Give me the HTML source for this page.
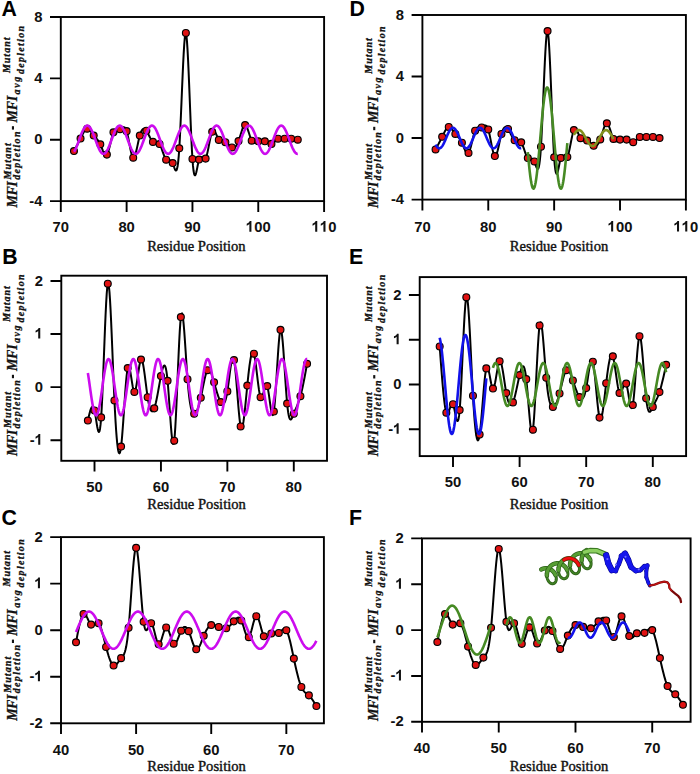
<!DOCTYPE html>
<html><head><meta charset="utf-8"><style>
html,body{margin:0;padding:0;background:#fff;overflow:hidden;}
svg{display:block;}
.tk{font-family:"Liberation Sans",sans-serif;font-weight:bold;font-size:14.8px;fill:#111;}
.lt{font-family:"Liberation Sans",sans-serif;font-weight:bold;font-size:21.3px;fill:#000;}
.xt{font-family:"Liberation Serif",serif;font-size:14.6px;fill:#111;stroke:#111;stroke-width:0.4px;}
.yl{font-family:"Liberation Serif",serif;font-weight:bold;font-style:italic;fill:#111;stroke:#111;stroke-width:0.3px;}
</style></head><body>
<svg width="700" height="774" viewBox="0 0 700 774">
<rect width="700" height="774" fill="#fff"/>

<rect x="60.80" y="17.00" width="263.30" height="184.10" fill="none" stroke="#000" stroke-width="1.9"/>
<text class="tk" x="52.57" y="231.70">7</text><text class="tk" x="60.80" y="231.70">0</text>
<text class="tk" x="118.40" y="231.70">8</text><text class="tk" x="126.62" y="231.70">0</text>
<text class="tk" x="184.22" y="231.70">9</text><text class="tk" x="192.45" y="231.70">0</text>
<path d="M760 0L475 0L475 1050Q320 905 109 835L109 1090Q220 1126 350 1227Q480 1328 528 1466L760 1466Z" transform="translate(245.93,231.70) scale(0.00723,-0.00723)" fill="#111"/><text class="tk" x="254.16" y="231.70">0</text><text class="tk" x="262.39" y="231.70">0</text>
<path d="M760 0L475 0L475 1050Q320 905 109 835L109 1090Q220 1126 350 1227Q480 1328 528 1466L760 1466Z" transform="translate(311.76,231.70) scale(0.00723,-0.00723)" fill="#111"/><path d="M760 0L475 0L475 1050Q320 905 109 835L109 1090Q220 1126 350 1227Q480 1328 528 1466L760 1466Z" transform="translate(319.99,231.70) scale(0.00723,-0.00723)" fill="#111"/><text class="tk" x="328.21" y="231.70">0</text>
<text class="tk" x="34.27" y="21.50">8</text>
<text class="tk" x="34.27" y="82.87">4</text>
<text class="tk" x="34.27" y="144.23">0</text>
<text class="tk" x="29.34" y="205.60">-</text><text class="tk" x="34.27" y="205.60">4</text>
<path d="M60.80 201.10 V211.90 M126.62 201.10 V211.90 M192.45 201.10 V211.90 M258.27 201.10 V211.90 M324.10 201.10 V211.90 M60.80 17.00 H50.00 M60.80 78.37 H50.00 M60.80 139.73 H50.00 M60.80 201.10 H50.00" stroke="#000" stroke-width="1.9" fill="none"/>
<text class="lt" x="1.50" y="15.90">A</text>
<text class="xt" x="196.40" y="251.00" text-anchor="middle">Residue Position</text>
<g transform="translate(0.00,207.40) rotate(-90)">
<text class="yl" x="0.00" y="16.60" font-size="14.0" textLength="26.20" lengthAdjust="spacing">MFI</text>
<text class="yl" x="28.00" y="10.60" font-size="10.0" textLength="36.10" lengthAdjust="spacing">Mutant</text>
<text class="yl" x="27.60" y="20.00" font-size="10.0" textLength="48.30" lengthAdjust="spacing">depletion</text>
<rect x="77.80" y="11.9" width="3.4" height="2.1" fill="#111"/>
<text class="yl" x="85.00" y="16.60" font-size="14.0" textLength="26.60" lengthAdjust="spacing">MFI</text>
<text class="yl" x="113.00" y="19.80" font-size="10.0" textLength="17.60" lengthAdjust="spacing">avg</text>
<text class="yl" x="133.40" y="23.60" font-size="10.0" textLength="48.10" lengthAdjust="spacing">depletion</text>
<text class="yl" x="134.30" y="10.40" font-size="10.0" textLength="35.60" lengthAdjust="spacing">Mutant</text>
</g>
<path d="M73.97 151.09 L74.51 150.08 L75.06 149.07 L75.61 148.05 L76.16 147.04 L76.71 146.01 L77.26 144.98 L77.80 143.93 L78.35 142.88 L78.90 141.81 L79.45 140.73 L80.00 139.63 L80.55 138.51 L81.10 137.37 L81.64 136.23 L82.19 135.11 L82.74 134.02 L83.29 132.98 L83.84 132.01 L84.39 131.14 L84.94 130.36 L85.48 129.71 L86.03 129.20 L86.58 128.86 L87.13 128.69 L87.68 128.71 L88.23 128.90 L88.78 129.25 L89.32 129.72 L89.87 130.31 L90.42 130.98 L90.97 131.71 L91.52 132.49 L92.07 133.29 L92.62 134.09 L93.16 134.86 L93.71 135.59 L94.26 136.26 L94.81 136.88 L95.36 137.47 L95.91 138.04 L96.46 138.62 L97.00 139.23 L97.55 139.87 L98.10 140.58 L98.65 141.36 L99.20 142.23 L99.75 143.22 L100.30 144.34 L100.84 145.59 L101.39 146.94 L101.94 148.34 L102.49 149.74 L103.04 151.08 L103.59 152.31 L104.13 153.39 L104.68 154.25 L105.23 154.86 L105.78 155.16 L106.33 155.09 L106.88 154.61 L107.43 153.69 L107.97 152.37 L108.52 150.73 L109.07 148.82 L109.62 146.72 L110.17 144.50 L110.72 142.22 L111.27 139.96 L111.81 137.77 L112.36 135.73 L112.91 133.91 L113.46 132.37 L114.01 131.16 L114.56 130.27 L115.11 129.64 L115.65 129.24 L116.20 129.02 L116.75 128.95 L117.30 128.98 L117.85 129.06 L118.40 129.16 L118.95 129.24 L119.49 129.25 L120.04 129.15 L120.59 128.91 L121.14 128.58 L121.69 128.19 L122.24 127.82 L122.79 127.49 L123.33 127.28 L123.88 127.22 L124.43 127.38 L124.98 127.80 L125.53 128.53 L126.08 129.63 L126.62 131.14 L127.17 133.10 L127.72 135.43 L128.27 138.04 L128.82 140.82 L129.37 143.68 L129.92 146.53 L130.46 149.25 L131.01 151.76 L131.56 153.95 L132.11 155.74 L132.66 157.01 L133.21 157.68 L133.76 157.68 L134.30 157.06 L134.85 155.90 L135.40 154.30 L135.95 152.33 L136.50 150.09 L137.05 147.65 L137.60 145.11 L138.14 142.55 L138.69 140.05 L139.24 137.70 L139.79 135.59 L140.34 133.78 L140.89 132.28 L141.44 131.07 L141.98 130.13 L142.53 129.46 L143.08 129.02 L143.63 128.82 L144.18 128.83 L144.73 129.03 L145.28 129.42 L145.82 129.98 L146.37 130.68 L146.92 131.52 L147.47 132.47 L148.02 133.50 L148.57 134.58 L149.12 135.69 L149.66 136.80 L150.21 137.88 L150.76 138.90 L151.31 139.84 L151.86 140.67 L152.41 141.36 L152.95 141.88 L153.50 142.22 L154.05 142.40 L154.60 142.47 L155.15 142.45 L155.70 142.40 L156.25 142.34 L156.79 142.31 L157.34 142.36 L157.89 142.52 L158.44 142.82 L158.99 143.31 L159.54 144.03 L160.09 144.99 L160.63 146.17 L161.18 147.52 L161.73 149.00 L162.28 150.55 L162.83 152.13 L163.38 153.70 L163.93 155.20 L164.47 156.60 L165.02 157.84 L165.57 158.88 L166.12 159.68 L166.67 160.20 L167.22 160.48 L167.77 160.59 L168.31 160.57 L168.86 160.50 L169.41 160.42 L169.96 160.39 L170.51 160.47 L171.06 160.72 L171.61 161.20 L172.15 161.95 L172.70 163.05 L173.25 164.51 L173.80 166.15 L174.35 167.79 L174.90 169.21 L175.45 170.22 L175.99 170.59 L176.54 170.15 L177.09 168.66 L177.64 165.95 L178.19 161.79 L178.74 155.98 L179.29 148.32 L179.83 138.73 L180.38 127.55 L180.93 115.26 L181.48 102.34 L182.03 89.26 L182.58 76.49 L183.12 64.51 L183.67 53.79 L184.22 44.80 L184.77 38.01 L185.32 33.91 L185.87 32.96 L186.42 35.47 L186.96 41.10 L187.51 49.36 L188.06 59.74 L188.61 71.74 L189.16 84.85 L189.71 98.58 L190.26 112.43 L190.80 125.89 L191.35 138.45 L191.90 149.63 L192.45 158.91 L193.00 165.92 L193.55 170.80 L194.10 173.81 L194.64 175.20 L195.19 175.24 L195.74 174.19 L196.29 172.30 L196.84 169.85 L197.39 167.08 L197.94 164.26 L198.48 161.66 L199.03 159.52 L199.58 158.06 L200.13 157.22 L200.68 156.88 L201.23 156.95 L201.78 157.31 L202.32 157.84 L202.87 158.44 L203.42 159.00 L203.97 159.41 L204.52 159.55 L205.07 159.32 L205.62 158.60 L206.16 157.33 L206.71 155.55 L207.26 153.37 L207.81 150.89 L208.36 148.20 L208.91 145.40 L209.45 142.59 L210.00 139.86 L210.55 137.32 L211.10 135.06 L211.65 133.17 L212.20 131.76 L212.75 130.89 L213.29 130.52 L213.84 130.59 L214.39 131.04 L214.94 131.78 L215.49 132.77 L216.04 133.92 L216.59 135.18 L217.13 136.47 L217.68 137.73 L218.23 138.89 L218.78 139.89 L219.33 140.67 L219.88 141.25 L220.43 141.65 L220.97 141.91 L221.52 142.05 L222.07 142.10 L222.62 142.10 L223.17 142.06 L223.72 142.02 L224.27 142.01 L224.81 142.06 L225.36 142.19 L225.91 142.42 L226.46 142.76 L227.01 143.17 L227.56 143.63 L228.11 144.15 L228.65 144.68 L229.20 145.22 L229.75 145.76 L230.30 146.26 L230.85 146.71 L231.40 147.10 L231.94 147.40 L232.49 147.61 L233.04 147.71 L233.59 147.69 L234.14 147.55 L234.69 147.28 L235.24 146.87 L235.78 146.32 L236.33 145.61 L236.88 144.74 L237.43 143.71 L237.98 142.50 L238.53 141.11 L239.08 139.55 L239.62 137.84 L240.17 136.05 L240.72 134.24 L241.27 132.44 L241.82 130.72 L242.37 129.14 L242.92 127.73 L243.46 126.56 L244.01 125.68 L244.56 125.15 L245.11 125.01 L245.66 125.29 L246.21 125.97 L246.76 126.97 L247.30 128.24 L247.85 129.71 L248.40 131.33 L248.95 133.03 L249.50 134.76 L250.05 136.44 L250.60 138.03 L251.14 139.45 L251.69 140.65 L252.24 141.59 L252.79 142.27 L253.34 142.73 L253.89 142.99 L254.44 143.07 L254.98 143.02 L255.53 142.85 L256.08 142.59 L256.63 142.28 L257.18 141.94 L257.73 141.59 L258.27 141.27 L258.82 141.00 L259.37 140.78 L259.92 140.61 L260.47 140.49 L261.02 140.42 L261.57 140.40 L262.11 140.43 L262.66 140.51 L263.21 140.63 L263.76 140.80 L264.31 141.01 L264.86 141.27 L265.41 141.56 L265.95 141.89 L266.50 142.23 L267.05 142.57 L267.60 142.91 L268.15 143.22 L268.70 143.50 L269.25 143.72 L269.79 143.89 L270.34 143.98 L270.89 143.98 L271.44 143.88 L271.99 143.67 L272.54 143.36 L273.09 142.97 L273.63 142.52 L274.18 142.02 L274.73 141.49 L275.28 140.95 L275.83 140.42 L276.38 139.90 L276.93 139.43 L277.47 139.01 L278.02 138.66 L278.57 138.40 L279.12 138.22 L279.67 138.10 L280.22 138.05 L280.77 138.05 L281.31 138.09 L281.86 138.17 L282.41 138.26 L282.96 138.37 L283.51 138.48 L284.06 138.58 L284.61 138.66 L285.15 138.72 L285.70 138.75 L286.25 138.77 L286.80 138.77 L287.35 138.76 L287.90 138.74 L288.44 138.72 L288.99 138.69 L289.54 138.67 L290.09 138.65 L290.64 138.65 L291.19 138.66 L291.74 138.69 L292.28 138.73 L292.83 138.79 L293.38 138.86 L293.93 138.94 L294.48 139.04 L295.03 139.14 L295.58 139.25 L296.12 139.36 L296.67 139.48 L297.22 139.61 L297.77 139.73" stroke="#000" stroke-width="2" fill="none" stroke-linejoin="round"/>
<g fill="#e01212" stroke="#000" stroke-width="1.15"><circle cx="73.97" cy="151.09" r="3.45"/><circle cx="80.55" cy="138.51" r="3.45"/><circle cx="87.13" cy="128.69" r="3.45"/><circle cx="93.71" cy="135.59" r="3.45"/><circle cx="100.30" cy="144.34" r="3.45"/><circle cx="106.88" cy="154.61" r="3.45"/><circle cx="113.46" cy="132.37" r="3.45"/><circle cx="120.04" cy="129.15" r="3.45"/><circle cx="126.62" cy="131.14" r="3.45"/><circle cx="133.21" cy="157.68" r="3.45"/><circle cx="139.79" cy="135.59" r="3.45"/><circle cx="146.37" cy="130.68" r="3.45"/><circle cx="152.95" cy="141.88" r="3.45"/><circle cx="159.54" cy="144.03" r="3.45"/><circle cx="166.12" cy="159.68" r="3.45"/><circle cx="172.70" cy="163.05" r="3.45"/><circle cx="179.29" cy="148.32" r="3.45"/><circle cx="185.87" cy="32.96" r="3.45"/><circle cx="192.45" cy="158.91" r="3.45"/><circle cx="199.03" cy="159.52" r="3.45"/><circle cx="205.62" cy="158.60" r="3.45"/><circle cx="212.20" cy="131.76" r="3.45"/><circle cx="218.78" cy="139.89" r="3.45"/><circle cx="225.36" cy="142.19" r="3.45"/><circle cx="231.94" cy="147.40" r="3.45"/><circle cx="238.53" cy="141.11" r="3.45"/><circle cx="245.11" cy="125.01" r="3.45"/><circle cx="251.69" cy="140.65" r="3.45"/><circle cx="258.27" cy="141.27" r="3.45"/><circle cx="264.86" cy="141.27" r="3.45"/><circle cx="271.44" cy="143.88" r="3.45"/><circle cx="278.02" cy="138.66" r="3.45"/><circle cx="284.61" cy="138.66" r="3.45"/><circle cx="291.19" cy="138.66" r="3.45"/><circle cx="297.77" cy="139.73" r="3.45"/></g>
<path d="M73.97 151.81 L74.38 151.19 L74.79 150.49 L75.20 149.73 L75.61 148.90 L76.02 148.01 L76.43 147.08 L76.84 146.09 L77.26 145.06 L77.67 144.00 L78.08 142.91 L78.49 141.80 L78.90 140.68 L79.31 139.55 L79.72 138.43 L80.14 137.31 L80.55 136.20 L80.96 135.12 L81.37 134.07 L81.78 133.06 L82.19 132.09 L82.60 131.16 L83.02 130.29 L83.43 129.49 L83.84 128.74 L84.25 128.07 L84.66 127.47 L85.07 126.95 L85.48 126.52 L85.90 126.16 L86.31 125.90 L86.72 125.72 L87.13 125.63 L87.54 125.63 L87.95 125.72 L88.36 125.90 L88.78 126.17 L89.19 126.53 L89.60 126.97 L90.01 127.49 L90.42 128.10 L90.83 128.77 L91.24 129.52 L91.66 130.33 L92.07 131.20 L92.48 132.12 L92.89 133.10 L93.30 134.11 L93.71 135.17 L94.12 136.25 L94.54 137.35 L94.95 138.47 L95.36 139.60 L95.77 140.73 L96.18 141.85 L96.59 142.96 L97.00 144.04 L97.42 145.10 L97.83 146.13 L98.24 147.11 L98.65 148.05 L99.06 148.94 L99.47 149.76 L99.88 150.52 L100.30 151.22 L100.71 151.83 L101.12 152.38 L101.53 152.84 L101.94 153.21 L102.35 153.51 L102.76 153.71 L103.17 153.82 L103.59 153.85 L104.00 153.78 L104.41 153.62 L104.82 153.38 L105.23 153.04 L105.64 152.63 L106.05 152.13 L106.47 151.55 L106.88 150.89 L107.29 150.17 L107.70 149.37 L108.11 148.52 L108.52 147.61 L108.93 146.65 L109.35 145.64 L109.76 144.60 L110.17 143.52 L110.58 142.43 L110.99 141.31 L111.40 140.18 L111.81 139.06 L112.23 137.93 L112.64 136.82 L113.05 135.73 L113.46 134.66 L113.87 133.62 L114.28 132.62 L114.69 131.67 L115.11 130.77 L115.52 129.93 L115.93 129.15 L116.34 128.44 L116.75 127.80 L117.16 127.23 L117.57 126.75 L117.99 126.35 L118.40 126.03 L118.81 125.81 L119.22 125.67 L119.63 125.62 L120.04 125.66 L120.45 125.79 L120.87 126.01 L121.28 126.32 L121.69 126.72 L122.10 127.19 L122.51 127.75 L122.92 128.38 L123.33 129.09 L123.75 129.87 L124.16 130.70 L124.57 131.60 L124.98 132.55 L125.39 133.54 L125.80 134.57 L126.21 135.64 L126.62 136.73 L127.04 137.84 L127.45 138.97 L127.86 140.09 L128.27 141.22 L128.68 142.34 L129.09 143.44 L129.50 144.51 L129.92 145.56 L130.33 146.57 L130.74 147.53 L131.15 148.45 L131.56 149.31 L131.97 150.10 L132.38 150.84 L132.80 151.50 L133.21 152.08 L133.62 152.59 L134.03 153.01 L134.44 153.35 L134.85 153.61 L135.26 153.77 L135.68 153.84 L136.09 153.83 L136.50 153.72 L136.91 153.52 L137.32 153.24 L137.73 152.87 L138.14 152.42 L138.56 151.88 L138.97 151.27 L139.38 150.58 L139.79 149.82 L140.20 149.00 L140.61 148.12 L141.02 147.19 L141.44 146.21 L141.85 145.19 L142.26 144.13 L142.67 143.04 L143.08 141.94 L143.49 140.82 L143.90 139.69 L144.32 138.56 L144.73 137.44 L145.14 136.34 L145.55 135.25 L145.96 134.20 L146.37 133.18 L146.78 132.20 L147.20 131.27 L147.61 130.39 L148.02 129.58 L148.43 128.83 L148.84 128.15 L149.25 127.54 L149.66 127.01 L150.08 126.56 L150.49 126.20 L150.90 125.92 L151.31 125.73 L151.72 125.64 L152.13 125.63 L152.54 125.71 L152.95 125.88 L153.37 126.14 L153.78 126.48 L154.19 126.92 L154.60 127.43 L155.01 128.02 L155.42 128.69 L155.83 129.42 L156.25 130.23 L156.66 131.09 L157.07 132.01 L157.48 132.98 L157.89 133.99 L158.30 135.04 L158.71 136.12 L159.13 137.22 L159.54 138.34 L159.95 139.46 L160.36 140.59 L160.77 141.71 L161.18 142.82 L161.59 143.91 L162.01 144.98 L162.42 146.01 L162.83 147.00 L163.24 147.94 L163.65 148.83 L164.06 149.67 L164.47 150.44 L164.89 151.14 L165.30 151.76 L165.71 152.32 L166.12 152.79 L166.53 153.17 L166.94 153.47 L167.35 153.69 L167.77 153.81 L168.18 153.85 L168.59 153.79 L169.00 153.65 L169.41 153.41 L169.82 153.09 L170.23 152.68 L170.65 152.19 L171.06 151.62 L171.47 150.97 L171.88 150.26 L172.29 149.47 L172.70 148.62 L173.11 147.72 L173.53 146.76 L173.94 145.76 L174.35 144.73 L174.76 143.65 L175.17 142.56 L175.58 141.44 L175.99 140.32 L176.41 139.19 L176.82 138.07 L177.23 136.95 L177.64 135.86 L178.05 134.78 L178.46 133.74 L178.87 132.74 L179.29 131.78 L179.70 130.88 L180.11 130.03 L180.52 129.24 L180.93 128.52 L181.34 127.87 L181.75 127.30 L182.16 126.80 L182.58 126.39 L182.99 126.07 L183.40 125.83 L183.81 125.68 L184.22 125.62 L184.63 125.65 L185.04 125.77 L185.46 125.98 L185.87 126.28 L186.28 126.66 L186.69 127.13 L187.10 127.68 L187.51 128.30 L187.92 129.00 L188.34 129.77 L188.75 130.60 L189.16 131.49 L189.57 132.43 L189.98 133.42 L190.39 134.45 L190.80 135.51 L191.22 136.60 L191.63 137.71 L192.04 138.83 L192.45 139.96 L192.86 141.09 L193.27 142.20 L193.68 143.31 L194.10 144.39 L194.51 145.44 L194.92 146.45 L195.33 147.42 L195.74 148.34 L196.15 149.21 L196.56 150.01 L196.98 150.75 L197.39 151.42 L197.80 152.02 L198.21 152.53 L198.62 152.97 L199.03 153.32 L199.44 153.58 L199.86 153.75 L200.27 153.84 L200.68 153.83 L201.09 153.74 L201.50 153.55 L201.91 153.28 L202.32 152.92 L202.74 152.47 L203.15 151.95 L203.56 151.35 L203.97 150.67 L204.38 149.92 L204.79 149.11 L205.20 148.23 L205.62 147.31 L206.03 146.33 L206.44 145.31 L206.85 144.26 L207.26 143.18 L207.67 142.07 L208.08 140.95 L208.49 139.82 L208.91 138.70 L209.32 137.57 L209.73 136.47 L210.14 135.38 L210.55 134.32 L210.96 133.30 L211.37 132.31 L211.79 131.38 L212.20 130.50 L212.61 129.67 L213.02 128.91 L213.43 128.23 L213.84 127.61 L214.25 127.07 L214.67 126.61 L215.08 126.24 L215.49 125.95 L215.90 125.75 L216.31 125.64 L216.72 125.62 L217.13 125.69 L217.55 125.85 L217.96 126.10 L218.37 126.44 L218.78 126.86 L219.19 127.36 L219.60 127.94 L220.01 128.60 L220.43 129.33 L220.84 130.13 L221.25 130.98 L221.66 131.90 L222.07 132.86 L222.48 133.87 L222.89 134.91 L223.31 135.99 L223.72 137.09 L224.13 138.20 L224.54 139.33 L224.95 140.46 L225.36 141.58 L225.77 142.69 L226.19 143.78 L226.60 144.85 L227.01 145.89 L227.42 146.88 L227.83 147.83 L228.24 148.73 L228.65 149.57 L229.07 150.35 L229.48 151.06 L229.89 151.69 L230.30 152.25 L230.71 152.73 L231.12 153.13 L231.53 153.44 L231.94 153.67 L232.36 153.80 L232.77 153.85 L233.18 153.80 L233.59 153.67 L234.00 153.44 L234.41 153.13 L234.82 152.73 L235.24 152.25 L235.65 151.69 L236.06 151.06 L236.47 150.35 L236.88 149.57 L237.29 148.73 L237.70 147.83 L238.12 146.88 L238.53 145.89 L238.94 144.85 L239.35 143.78 L239.76 142.69 L240.17 141.58 L240.58 140.46 L241.00 139.33 L241.41 138.20 L241.82 137.09 L242.23 135.99 L242.64 134.91 L243.05 133.87 L243.46 132.86 L243.88 131.90 L244.29 130.98 L244.70 130.13 L245.11 129.33 L245.52 128.60 L245.93 127.94 L246.34 127.36 L246.76 126.86 L247.17 126.44 L247.58 126.10 L247.99 125.85 L248.40 125.69 L248.81 125.62 L249.22 125.64 L249.64 125.75 L250.05 125.95 L250.46 126.24 L250.87 126.61 L251.28 127.07 L251.69 127.61 L252.10 128.23 L252.52 128.91 L252.93 129.67 L253.34 130.50 L253.75 131.38 L254.16 132.31 L254.57 133.30 L254.98 134.32 L255.40 135.38 L255.81 136.47 L256.22 137.57 L256.63 138.70 L257.04 139.82 L257.45 140.95 L257.86 142.07 L258.27 143.18 L258.69 144.26 L259.10 145.31 L259.51 146.33 L259.92 147.31 L260.33 148.23 L260.74 149.11 L261.15 149.92 L261.57 150.67 L261.98 151.35 L262.39 151.95 L262.80 152.47 L263.21 152.92 L263.62 153.28 L264.03 153.55 L264.45 153.74 L264.86 153.83 L265.27 153.84 L265.68 153.75 L266.09 153.58 L266.50 153.32 L266.91 152.97 L267.33 152.53 L267.74 152.02 L268.15 151.42 L268.56 150.75 L268.97 150.01 L269.38 149.21 L269.79 148.34 L270.21 147.42 L270.62 146.45 L271.03 145.44 L271.44 144.39 L271.85 143.31 L272.26 142.20 L272.67 141.09 L273.09 139.96 L273.50 138.83 L273.91 137.71 L274.32 136.60 L274.73 135.51 L275.14 134.45 L275.55 133.42 L275.97 132.43 L276.38 131.49 L276.79 130.60 L277.20 129.77 L277.61 129.00 L278.02 128.30 L278.43 127.68 L278.85 127.13 L279.26 126.66 L279.67 126.28 L280.08 125.98 L280.49 125.77 L280.90 125.65 L281.31 125.62 L281.73 125.68 L282.14 125.83 L282.55 126.07 L282.96 126.39 L283.37 126.80 L283.78 127.30 L284.19 127.87 L284.61 128.52 L285.02 129.24 L285.43 130.03 L285.84 130.88 L286.25 131.78 L286.66 132.74 L287.07 133.74 L287.48 134.78 L287.90 135.86 L288.31 136.95 L288.72 138.07 L289.13 139.19 L289.54 140.32 L289.95 141.44 L290.36 142.56 L290.78 143.65 L291.19 144.73 L291.60 145.76 L292.01 146.76 L292.42 147.72 L292.83 148.62 L293.24 149.47 L293.66 150.26 L294.07 150.97 L294.48 151.62 L294.89 152.19 L295.30 152.68 L295.71 153.09 L296.12 153.41 L296.54 153.65 L296.95 153.79 L297.36 153.85 L297.77 153.81" stroke="#cc0cee" stroke-width="2.6" fill="none" stroke-linejoin="round"/>
<rect x="61.30" y="275.70" width="265.70" height="185.10" fill="none" stroke="#000" stroke-width="1.9"/>
<text class="tk" x="86.28" y="491.70">5</text><text class="tk" x="94.51" y="491.70">0</text>
<text class="tk" x="152.71" y="491.70">6</text><text class="tk" x="160.94" y="491.70">0</text>
<text class="tk" x="219.13" y="491.70">7</text><text class="tk" x="227.36" y="491.70">0</text>
<text class="tk" x="285.56" y="491.70">8</text><text class="tk" x="293.79" y="491.70">0</text>
<text class="tk" x="34.77" y="285.51">2</text>
<path d="M760 0L475 0L475 1050Q320 905 109 835L109 1090Q220 1126 350 1227Q480 1328 528 1466L760 1466Z" transform="translate(34.77,338.57) scale(0.00723,-0.00723)" fill="#111"/>
<text class="tk" x="34.77" y="391.64">0</text>
<text class="tk" x="29.84" y="444.71">-</text><path d="M760 0L475 0L475 1050Q320 905 109 835L109 1090Q220 1126 350 1227Q480 1328 528 1466L760 1466Z" transform="translate(34.77,444.71) scale(0.00723,-0.00723)" fill="#111"/>
<path d="M94.51 460.80 V471.60 M160.94 460.80 V471.60 M227.36 460.80 V471.60 M293.79 460.80 V471.60 M61.30 281.01 H50.50 M61.30 334.07 H50.50 M61.30 387.14 H50.50 M61.30 440.21 H50.50" stroke="#000" stroke-width="1.9" fill="none"/>
<text class="lt" x="2.20" y="263.80">B</text>
<text class="xt" x="196.60" y="508.90" text-anchor="middle">Residue Position</text>
<g transform="translate(0.00,456.00) rotate(-90)">
<text class="yl" x="0.00" y="16.60" font-size="14.0" textLength="26.20" lengthAdjust="spacing">MFI</text>
<text class="yl" x="28.00" y="10.60" font-size="10.0" textLength="36.10" lengthAdjust="spacing">Mutant</text>
<text class="yl" x="27.60" y="20.00" font-size="10.0" textLength="48.30" lengthAdjust="spacing">depletion</text>
<rect x="77.80" y="11.9" width="3.4" height="2.1" fill="#111"/>
<text class="yl" x="85.00" y="16.60" font-size="14.0" textLength="26.60" lengthAdjust="spacing">MFI</text>
<text class="yl" x="113.00" y="19.80" font-size="10.0" textLength="17.60" lengthAdjust="spacing">avg</text>
<text class="yl" x="133.40" y="23.60" font-size="10.0" textLength="48.10" lengthAdjust="spacing">depletion</text>
<text class="yl" x="134.30" y="10.40" font-size="10.0" textLength="35.60" lengthAdjust="spacing">Mutant</text>
</g>
<path d="M87.87 420.57 L88.42 418.11 L88.98 415.72 L89.53 413.46 L90.08 411.40 L90.64 409.62 L91.19 408.18 L91.74 407.15 L92.30 406.59 L92.85 406.58 L93.41 407.18 L93.96 408.46 L94.51 410.49 L95.07 413.28 L95.62 416.61 L96.17 420.19 L96.73 423.74 L97.28 426.98 L97.83 429.64 L98.39 431.42 L98.94 432.05 L99.49 431.24 L100.05 428.71 L100.60 424.19 L101.16 417.39 L101.71 408.16 L102.26 396.88 L102.82 384.06 L103.37 370.21 L103.92 355.84 L104.48 341.47 L105.03 327.60 L105.58 314.74 L106.14 303.40 L106.69 294.11 L107.24 287.36 L107.80 283.66 L108.35 283.38 L108.90 286.26 L109.46 291.91 L110.01 299.91 L110.57 309.87 L111.12 321.38 L111.67 334.03 L112.23 347.43 L112.78 361.17 L113.33 374.85 L113.89 388.07 L114.44 400.41 L114.99 411.55 L115.55 421.40 L116.10 429.95 L116.65 437.20 L117.21 443.12 L117.76 447.71 L118.31 450.96 L118.87 452.85 L119.42 453.37 L119.98 452.50 L120.53 450.24 L121.08 446.58 L121.64 441.54 L122.19 435.35 L122.74 428.27 L123.30 420.56 L123.85 412.49 L124.40 404.32 L124.96 396.31 L125.51 388.74 L126.06 381.86 L126.62 375.94 L127.17 371.25 L127.72 368.04 L128.28 366.49 L128.83 366.44 L129.39 367.63 L129.94 369.81 L130.49 372.71 L131.05 376.08 L131.60 379.67 L132.15 383.22 L132.71 386.48 L133.26 389.18 L133.81 391.08 L134.37 391.92 L134.92 391.51 L135.47 390.00 L136.03 387.58 L136.58 384.47 L137.14 380.87 L137.69 376.99 L138.24 373.04 L138.80 369.24 L139.35 365.77 L139.90 362.87 L140.46 360.72 L141.01 359.55 L141.56 359.49 L142.12 360.48 L142.67 362.37 L143.22 365.02 L143.78 368.31 L144.33 372.08 L144.88 376.20 L145.44 380.53 L145.99 384.94 L146.55 389.28 L147.10 393.42 L147.65 397.22 L148.21 400.57 L148.76 403.46 L149.31 405.88 L149.87 407.85 L150.42 409.37 L150.97 410.46 L151.53 411.13 L152.08 411.38 L152.63 411.22 L153.19 410.66 L153.74 409.70 L154.29 408.37 L154.85 406.67 L155.40 404.63 L155.96 402.31 L156.51 399.76 L157.06 397.00 L157.62 394.10 L158.17 391.08 L158.72 388.01 L159.28 384.92 L159.83 381.86 L160.38 378.87 L160.94 376.00 L161.49 373.30 L162.04 370.85 L162.60 368.75 L163.15 367.09 L163.71 365.96 L164.26 365.46 L164.81 365.68 L165.37 366.70 L165.92 368.63 L166.47 371.56 L167.03 375.58 L167.58 380.77 L168.13 387.17 L168.69 394.49 L169.24 402.38 L169.79 410.48 L170.35 418.45 L170.90 425.92 L171.45 432.56 L172.01 438.00 L172.56 441.89 L173.12 443.88 L173.67 443.61 L174.22 440.74 L174.78 435.05 L175.33 426.89 L175.88 416.75 L176.44 405.11 L176.99 392.48 L177.54 379.33 L178.10 366.16 L178.65 353.46 L179.20 341.71 L179.76 331.41 L180.31 323.04 L180.86 317.09 L181.42 313.93 L181.97 313.35 L182.53 315.04 L183.08 318.68 L183.63 323.95 L184.19 330.51 L184.74 338.06 L185.29 346.26 L185.85 354.79 L186.40 363.34 L186.95 371.58 L187.51 379.18 L188.06 385.89 L188.61 391.71 L189.17 396.69 L189.72 400.90 L190.28 404.38 L190.83 407.21 L191.38 409.44 L191.94 411.13 L192.49 412.34 L193.04 413.12 L193.60 413.55 L194.15 413.68 L194.70 413.55 L195.26 413.19 L195.81 412.59 L196.36 411.77 L196.92 410.73 L197.47 409.47 L198.02 408.01 L198.58 406.34 L199.13 404.48 L199.69 402.42 L200.24 400.18 L200.79 397.76 L201.35 395.16 L201.90 392.45 L202.45 389.67 L203.01 386.87 L203.56 384.10 L204.11 381.43 L204.67 378.89 L205.22 376.55 L205.77 374.45 L206.33 372.65 L206.88 371.20 L207.44 370.16 L207.99 369.56 L208.54 369.38 L209.10 369.57 L209.65 370.12 L210.20 370.97 L210.76 372.09 L211.31 373.44 L211.86 374.98 L212.42 376.69 L212.97 378.51 L213.52 380.42 L214.08 382.37 L214.63 384.33 L215.18 386.28 L215.74 388.21 L216.29 390.11 L216.85 391.94 L217.40 393.71 L217.95 395.40 L218.51 396.98 L219.06 398.45 L219.61 399.78 L220.17 400.97 L220.72 402.00 L221.27 402.85 L221.83 403.49 L222.38 403.88 L222.93 404.01 L223.49 403.83 L224.04 403.31 L224.59 402.43 L225.15 401.15 L225.70 399.43 L226.26 397.26 L226.81 394.59 L227.36 391.39 L227.92 387.67 L228.47 383.56 L229.02 379.25 L229.58 374.91 L230.13 370.71 L230.68 366.83 L231.24 363.45 L231.79 360.73 L232.34 358.86 L232.90 358.01 L233.45 358.36 L234.00 360.08 L234.56 363.27 L235.11 367.75 L235.67 373.26 L236.22 379.54 L236.77 386.33 L237.33 393.38 L237.88 400.41 L238.43 407.18 L238.99 413.42 L239.54 418.88 L240.09 423.30 L240.65 426.41 L241.20 428.03 L241.75 428.24 L242.31 427.18 L242.86 425.01 L243.42 421.88 L243.97 417.94 L244.52 413.33 L245.08 408.20 L245.63 402.71 L246.18 397.01 L246.74 391.24 L247.29 385.55 L247.84 380.08 L248.40 374.91 L248.95 370.10 L249.50 365.72 L250.06 361.83 L250.61 358.49 L251.16 355.77 L251.72 353.73 L252.27 352.45 L252.83 351.97 L253.38 352.37 L253.93 353.71 L254.49 356.01 L255.04 359.15 L255.59 362.93 L256.15 367.19 L256.70 371.75 L257.25 376.43 L257.81 381.06 L258.36 385.46 L258.91 389.45 L259.47 392.86 L260.02 395.51 L260.57 397.22 L261.13 397.89 L261.68 397.63 L262.24 396.64 L262.79 395.11 L263.34 393.23 L263.90 391.18 L264.45 389.16 L265.00 387.35 L265.56 385.95 L266.11 385.15 L266.66 385.13 L267.22 386.08 L267.77 388.12 L268.32 391.07 L268.88 394.64 L269.43 398.59 L269.99 402.63 L270.54 406.52 L271.09 409.97 L271.65 412.74 L272.20 414.54 L272.75 415.12 L273.31 414.22 L273.86 411.55 L274.41 406.98 L274.97 400.75 L275.52 393.26 L276.07 384.85 L276.63 375.92 L277.18 366.83 L277.73 357.96 L278.29 349.67 L278.84 342.34 L279.40 336.34 L279.95 332.05 L280.50 329.83 L281.06 329.95 L281.61 332.20 L282.16 336.28 L282.72 341.87 L283.27 348.66 L283.82 356.33 L284.38 364.59 L284.93 373.11 L285.48 381.58 L286.04 389.69 L286.59 397.14 L287.14 403.59 L287.70 408.83 L288.25 412.88 L288.81 415.87 L289.36 417.90 L289.91 419.10 L290.47 419.57 L291.02 419.44 L291.57 418.82 L292.13 417.81 L292.68 416.54 L293.23 415.13 L293.79 413.68 L294.34 412.28 L294.89 410.95 L295.45 409.65 L296.00 408.37 L296.56 407.08 L297.11 405.77 L297.66 404.41 L298.22 402.99 L298.77 401.47 L299.32 399.84 L299.88 398.08 L300.43 396.16 L300.98 394.08 L301.54 391.84 L302.09 389.45 L302.64 386.93 L303.20 384.29 L303.75 381.55 L304.30 378.72 L304.86 375.83 L305.41 372.87 L305.97 369.87 L306.52 366.84 L307.07 363.79" stroke="#000" stroke-width="2" fill="none" stroke-linejoin="round"/>
<g fill="#e01212" stroke="#000" stroke-width="1.15"><circle cx="87.87" cy="420.57" r="3.45"/><circle cx="94.51" cy="410.49" r="3.45"/><circle cx="101.16" cy="417.39" r="3.45"/><circle cx="107.80" cy="283.66" r="3.45"/><circle cx="114.44" cy="400.41" r="3.45"/><circle cx="121.08" cy="446.58" r="3.45"/><circle cx="127.72" cy="368.04" r="3.45"/><circle cx="134.37" cy="391.92" r="3.45"/><circle cx="141.01" cy="359.55" r="3.45"/><circle cx="147.65" cy="397.22" r="3.45"/><circle cx="154.29" cy="408.37" r="3.45"/><circle cx="160.94" cy="376.00" r="3.45"/><circle cx="167.58" cy="380.77" r="3.45"/><circle cx="174.22" cy="440.74" r="3.45"/><circle cx="180.86" cy="317.09" r="3.45"/><circle cx="187.51" cy="379.18" r="3.45"/><circle cx="194.15" cy="413.68" r="3.45"/><circle cx="200.79" cy="397.76" r="3.45"/><circle cx="207.44" cy="370.16" r="3.45"/><circle cx="214.08" cy="382.37" r="3.45"/><circle cx="220.72" cy="402.00" r="3.45"/><circle cx="227.36" cy="391.39" r="3.45"/><circle cx="234.00" cy="360.08" r="3.45"/><circle cx="240.65" cy="426.41" r="3.45"/><circle cx="247.29" cy="385.55" r="3.45"/><circle cx="253.93" cy="353.71" r="3.45"/><circle cx="260.57" cy="397.22" r="3.45"/><circle cx="267.22" cy="386.08" r="3.45"/><circle cx="273.86" cy="411.55" r="3.45"/><circle cx="280.50" cy="329.83" r="3.45"/><circle cx="287.14" cy="403.59" r="3.45"/><circle cx="293.79" cy="413.68" r="3.45"/><circle cx="300.43" cy="396.16" r="3.45"/><circle cx="307.07" cy="363.79" r="3.45"/></g>
<path d="M87.87 373.01 L88.29 375.64 L88.70 378.41 L89.12 381.26 L89.53 384.19 L89.95 387.14 L90.36 390.10 L90.78 393.02 L91.19 395.88 L91.61 398.64 L92.02 401.27 L92.44 403.75 L92.85 406.04 L93.27 408.13 L93.68 409.98 L94.10 411.58 L94.51 412.91 L94.93 413.95 L95.34 414.70 L95.76 415.14 L96.17 415.27 L96.59 415.09 L97.00 414.60 L97.42 413.80 L97.83 412.71 L98.25 411.34 L98.66 409.70 L99.08 407.81 L99.49 405.69 L99.91 403.37 L100.32 400.86 L100.74 398.21 L101.16 395.43 L101.57 392.56 L101.99 389.63 L102.40 386.67 L102.82 383.72 L103.23 380.80 L103.65 377.96 L104.06 375.21 L104.48 372.60 L104.89 370.15 L105.31 367.89 L105.72 365.84 L106.14 364.03 L106.55 362.47 L106.97 361.19 L107.38 360.20 L107.80 359.50 L108.21 359.11 L108.63 359.03 L109.04 359.26 L109.46 359.79 L109.87 360.64 L110.29 361.77 L110.70 363.19 L111.12 364.87 L111.53 366.80 L111.95 368.95 L112.36 371.31 L112.78 373.84 L113.19 376.52 L113.61 379.31 L114.02 382.19 L114.44 385.13 L114.86 388.09 L115.27 391.04 L115.69 393.94 L116.10 396.77 L116.52 399.50 L116.93 402.08 L117.35 404.51 L117.76 406.73 L118.18 408.75 L118.59 410.52 L119.01 412.03 L119.42 413.27 L119.84 414.22 L120.25 414.87 L120.67 415.21 L121.08 415.24 L121.50 414.96 L121.91 414.37 L122.33 413.49 L122.74 412.30 L123.16 410.84 L123.57 409.12 L123.99 407.16 L124.40 404.97 L124.82 402.58 L125.23 400.03 L125.65 397.33 L126.06 394.52 L126.48 391.62 L126.89 388.68 L127.31 385.72 L127.72 382.78 L128.14 379.88 L128.56 377.07 L128.97 374.36 L129.39 371.80 L129.80 369.41 L130.22 367.21 L130.63 365.24 L131.05 363.50 L131.46 362.03 L131.88 360.84 L132.29 359.94 L132.71 359.34 L133.12 359.05 L133.54 359.07 L133.95 359.39 L134.37 360.03 L134.78 360.97 L135.20 362.20 L135.61 363.70 L136.03 365.46 L136.44 367.46 L136.86 369.69 L137.27 372.10 L137.69 374.68 L138.10 377.40 L138.52 380.23 L138.93 383.13 L139.35 386.08 L139.76 389.04 L140.18 391.97 L140.59 394.86 L141.01 397.66 L141.43 400.34 L141.84 402.88 L142.26 405.24 L142.67 407.40 L143.09 409.34 L143.50 411.03 L143.92 412.46 L144.33 413.61 L144.75 414.46 L145.16 415.01 L145.58 415.26 L145.99 415.19 L146.41 414.81 L146.82 414.12 L147.24 413.14 L147.65 411.87 L148.07 410.32 L148.48 408.52 L148.90 406.48 L149.31 404.22 L149.73 401.78 L150.14 399.18 L150.56 396.44 L150.97 393.60 L151.39 390.69 L151.80 387.73 L152.22 384.78 L152.63 381.84 L153.05 378.97 L153.46 376.19 L153.88 373.53 L154.29 371.02 L154.71 368.68 L155.13 366.56 L155.54 364.66 L155.96 363.00 L156.37 361.62 L156.79 360.52 L157.20 359.71 L157.62 359.21 L158.03 359.02 L158.45 359.14 L158.86 359.57 L159.28 360.30 L159.69 361.33 L160.11 362.65 L160.52 364.24 L160.94 366.08 L161.35 368.15 L161.77 370.44 L162.18 372.91 L162.60 375.54 L163.01 378.29 L163.43 381.15 L163.84 384.07 L164.26 387.02 L164.67 389.98 L165.09 392.90 L165.50 395.77 L165.92 398.53 L166.33 401.17 L166.75 403.65 L167.16 405.96 L167.58 408.05 L168.00 409.91 L168.41 411.52 L168.83 412.86 L169.24 413.91 L169.66 414.67 L170.07 415.12 L170.49 415.27 L170.90 415.10 L171.32 414.62 L171.73 413.84 L172.15 412.76 L172.56 411.40 L172.98 409.77 L173.39 407.89 L173.81 405.78 L174.22 403.46 L174.64 400.96 L175.05 398.31 L175.47 395.54 L175.88 392.67 L176.30 389.74 L176.71 386.79 L177.13 383.83 L177.54 380.92 L177.96 378.07 L178.37 375.32 L178.79 372.70 L179.20 370.25 L179.62 367.98 L180.03 365.92 L180.45 364.10 L180.86 362.53 L181.28 361.24 L181.70 360.23 L182.11 359.52 L182.53 359.12 L182.94 359.02 L183.36 359.24 L183.77 359.77 L184.19 360.60 L184.60 361.72 L185.02 363.13 L185.43 364.80 L185.85 366.72 L186.26 368.86 L186.68 371.21 L187.09 373.73 L187.51 376.41 L187.92 379.20 L188.34 382.08 L188.75 385.01 L189.17 387.97 L189.58 390.92 L190.00 393.83 L190.41 396.66 L190.83 399.39 L191.24 401.98 L191.66 404.41 L192.07 406.65 L192.49 408.67 L192.90 410.45 L193.32 411.98 L193.73 413.23 L194.15 414.19 L194.57 414.85 L194.98 415.20 L195.40 415.25 L195.81 414.98 L196.23 414.40 L196.64 413.53 L197.06 412.36 L197.47 410.91 L197.89 409.19 L198.30 407.24 L198.72 405.06 L199.13 402.68 L199.55 400.13 L199.96 397.44 L200.38 394.63 L200.79 391.74 L201.21 388.80 L201.62 385.84 L202.04 382.89 L202.45 380.00 L202.87 377.18 L203.28 374.47 L203.70 371.90 L204.11 369.50 L204.53 367.30 L204.94 365.31 L205.36 363.57 L205.77 362.09 L206.19 360.88 L206.60 359.97 L207.02 359.36 L207.44 359.05 L207.85 359.06 L208.27 359.38 L208.68 360.00 L209.10 360.93 L209.51 362.14 L209.93 363.63 L210.34 365.39 L210.76 367.38 L211.17 369.59 L211.59 372.00 L212.00 374.57 L212.42 377.29 L212.83 380.11 L213.25 383.01 L213.66 385.96 L214.08 388.92 L214.49 391.86 L214.91 394.75 L215.32 397.55 L215.74 400.24 L216.15 402.78 L216.57 405.15 L216.98 407.32 L217.40 409.27 L217.81 410.97 L218.23 412.41 L218.64 413.57 L219.06 414.43 L219.47 415.00 L219.89 415.25 L220.30 415.20 L220.72 414.83 L221.14 414.16 L221.55 413.18 L221.97 411.92 L222.38 410.39 L222.80 408.59 L223.21 406.56 L223.63 404.32 L224.04 401.88 L224.46 399.28 L224.87 396.55 L225.29 393.71 L225.70 390.80 L226.12 387.85 L226.53 384.89 L226.95 381.96 L227.36 379.08 L227.78 376.30 L228.19 373.63 L228.61 371.11 L229.02 368.77 L229.44 366.64 L229.85 364.73 L230.27 363.07 L230.68 361.67 L231.10 360.56 L231.51 359.74 L231.93 359.23 L232.34 359.02 L232.76 359.13 L233.17 359.54 L233.59 360.26 L234.00 361.28 L234.42 362.59 L234.84 364.17 L235.25 366.00 L235.67 368.07 L236.08 370.34 L236.50 372.81 L236.91 375.43 L237.33 378.18 L237.74 381.03 L238.16 383.95 L238.57 386.91 L238.99 389.86 L239.40 392.79 L239.82 395.65 L240.23 398.42 L240.65 401.07 L241.06 403.56 L241.48 405.87 L241.89 407.97 L242.31 409.84 L242.72 411.46 L243.14 412.81 L243.55 413.88 L243.97 414.65 L244.38 415.11 L244.80 415.27 L245.21 415.11 L245.63 414.65 L246.04 413.88 L246.46 412.81 L246.87 411.46 L247.29 409.84 L247.71 407.97 L248.12 405.87 L248.54 403.56 L248.95 401.07 L249.37 398.42 L249.78 395.65 L250.20 392.79 L250.61 389.86 L251.03 386.91 L251.44 383.95 L251.86 381.03 L252.27 378.18 L252.69 375.43 L253.10 372.81 L253.52 370.34 L253.93 368.07 L254.35 366.00 L254.76 364.17 L255.18 362.59 L255.59 361.28 L256.01 360.26 L256.42 359.54 L256.84 359.13 L257.25 359.02 L257.67 359.23 L258.08 359.74 L258.50 360.56 L258.91 361.67 L259.33 363.07 L259.74 364.73 L260.16 366.64 L260.57 368.77 L260.99 371.11 L261.41 373.63 L261.82 376.30 L262.24 379.08 L262.65 381.96 L263.07 384.89 L263.48 387.85 L263.90 390.80 L264.31 393.71 L264.73 396.55 L265.14 399.28 L265.56 401.88 L265.97 404.32 L266.39 406.56 L266.80 408.59 L267.22 410.39 L267.63 411.92 L268.05 413.18 L268.46 414.16 L268.88 414.83 L269.29 415.20 L269.71 415.25 L270.12 415.00 L270.54 414.43 L270.95 413.57 L271.37 412.41 L271.78 410.97 L272.20 409.27 L272.61 407.32 L273.03 405.15 L273.44 402.78 L273.86 400.24 L274.28 397.55 L274.69 394.75 L275.11 391.86 L275.52 388.92 L275.94 385.96 L276.35 383.01 L276.77 380.11 L277.18 377.29 L277.60 374.57 L278.01 372.00 L278.43 369.59 L278.84 367.38 L279.26 365.39 L279.67 363.63 L280.09 362.14 L280.50 360.93 L280.92 360.00 L281.33 359.38 L281.75 359.06 L282.16 359.05 L282.58 359.36 L282.99 359.97 L283.41 360.88 L283.82 362.09 L284.24 363.57 L284.65 365.31 L285.07 367.30 L285.48 369.50 L285.90 371.90 L286.31 374.47 L286.73 377.18 L287.14 380.00 L287.56 382.89 L287.98 385.84 L288.39 388.80 L288.81 391.74 L289.22 394.63 L289.64 397.44 L290.05 400.13 L290.47 402.68 L290.88 405.06 L291.30 407.24 L291.71 409.19 L292.13 410.91 L292.54 412.36 L292.96 413.53 L293.37 414.40 L293.79 414.98 L294.20 415.25 L294.62 415.20 L295.03 414.85 L295.45 414.19 L295.86 413.23 L296.28 411.98 L296.69 410.45 L297.11 408.67 L297.52 406.65 L297.94 404.41 L298.35 401.98 L298.77 399.39 L299.18 396.66 L299.60 393.83 L300.01 390.92 L300.43 387.97 L300.85 385.01 L301.26 382.08 L301.68 379.20 L302.09 376.41 L302.51 373.73 L302.92 371.21 L303.34 368.86 L303.75 366.72 L304.17 364.80 L304.58 363.13 L305.00 361.72 L305.41 360.60 L305.83 359.77 L306.24 359.24 L306.66 359.02 L307.07 359.12" stroke="#cc0cee" stroke-width="2.6" fill="none" stroke-linejoin="round"/>
<rect x="61.00" y="537.10" width="262.90" height="186.20" fill="none" stroke="#000" stroke-width="1.9"/>
<text class="tk" x="52.77" y="754.50">4</text><text class="tk" x="61.00" y="754.50">0</text>
<text class="tk" x="127.89" y="754.50">5</text><text class="tk" x="136.11" y="754.50">0</text>
<text class="tk" x="203.00" y="754.50">6</text><text class="tk" x="211.23" y="754.50">0</text>
<text class="tk" x="278.11" y="754.50">7</text><text class="tk" x="286.34" y="754.50">0</text>
<text class="tk" x="34.47" y="541.60">2</text>
<path d="M760 0L475 0L475 1050Q320 905 109 835L109 1090Q220 1126 350 1227Q480 1328 528 1466L760 1466Z" transform="translate(34.47,588.15) scale(0.00723,-0.00723)" fill="#111"/>
<text class="tk" x="34.47" y="634.70">0</text>
<text class="tk" x="29.54" y="681.25">-</text><path d="M760 0L475 0L475 1050Q320 905 109 835L109 1090Q220 1126 350 1227Q480 1328 528 1466L760 1466Z" transform="translate(34.47,681.25) scale(0.00723,-0.00723)" fill="#111"/>
<text class="tk" x="29.54" y="727.80">-</text><text class="tk" x="34.47" y="727.80">2</text>
<path d="M61.00 723.30 V734.10 M136.11 723.30 V734.10 M211.23 723.30 V734.10 M286.34 723.30 V734.10 M61.00 537.10 H50.20 M61.00 583.65 H50.20 M61.00 630.20 H50.20 M61.00 676.75 H50.20 M61.00 723.30 H50.20" stroke="#000" stroke-width="1.9" fill="none"/>
<text class="lt" x="1.60" y="525.00">C</text>
<text class="xt" x="196.60" y="771.20" text-anchor="middle">Residue Position</text>
<g transform="translate(0.00,720.80) rotate(-90)">
<text class="yl" x="0.00" y="16.60" font-size="14.0" textLength="26.20" lengthAdjust="spacing">MFI</text>
<text class="yl" x="28.00" y="10.60" font-size="10.0" textLength="36.10" lengthAdjust="spacing">Mutant</text>
<text class="yl" x="27.60" y="20.00" font-size="10.0" textLength="48.30" lengthAdjust="spacing">depletion</text>
<rect x="77.80" y="11.9" width="3.4" height="2.1" fill="#111"/>
<text class="yl" x="85.00" y="16.60" font-size="14.0" textLength="26.60" lengthAdjust="spacing">MFI</text>
<text class="yl" x="113.00" y="19.80" font-size="10.0" textLength="17.60" lengthAdjust="spacing">avg</text>
<text class="yl" x="133.40" y="23.60" font-size="10.0" textLength="48.10" lengthAdjust="spacing">depletion</text>
<text class="yl" x="134.30" y="10.40" font-size="10.0" textLength="35.60" lengthAdjust="spacing">Mutant</text>
</g>
<path d="M76.02 642.30 L76.65 638.96 L77.27 635.66 L77.90 632.43 L78.53 629.34 L79.15 626.40 L79.78 623.67 L80.40 621.19 L81.03 619.00 L81.66 617.13 L82.28 615.63 L82.91 614.54 L83.53 613.91 L84.16 613.75 L84.79 614.01 L85.41 614.62 L86.04 615.52 L86.66 616.63 L87.29 617.89 L87.92 619.23 L88.54 620.57 L89.17 621.85 L89.79 623.00 L90.42 623.94 L91.05 624.61 L91.67 624.97 L92.30 625.04 L92.92 624.89 L93.55 624.58 L94.18 624.16 L94.80 623.69 L95.43 623.24 L96.05 622.85 L96.68 622.60 L97.31 622.54 L97.93 622.73 L98.56 623.22 L99.18 624.06 L99.81 625.23 L100.44 626.69 L101.06 628.41 L101.69 630.35 L102.31 632.47 L102.94 634.73 L103.56 637.11 L104.19 639.55 L104.82 642.04 L105.44 644.52 L106.07 646.96 L106.69 649.33 L107.32 651.61 L107.95 653.78 L108.57 655.82 L109.20 657.72 L109.82 659.46 L110.45 661.03 L111.08 662.40 L111.70 663.55 L112.33 664.48 L112.95 665.16 L113.58 665.58 L114.21 665.72 L114.83 665.62 L115.46 665.30 L116.08 664.80 L116.71 664.15 L117.34 663.38 L117.96 662.53 L118.59 661.63 L119.21 660.70 L119.84 659.79 L120.47 658.92 L121.09 658.13 L121.72 657.43 L122.34 656.74 L122.97 655.95 L123.60 654.97 L124.22 653.69 L124.85 652.01 L125.47 649.84 L126.10 647.06 L126.72 643.57 L127.35 639.28 L127.98 634.08 L128.60 627.87 L129.23 620.62 L129.85 612.53 L130.48 603.89 L131.11 594.98 L131.73 586.09 L132.36 577.49 L132.98 569.47 L133.61 562.30 L134.24 556.27 L134.86 551.65 L135.49 548.74 L136.11 547.81 L136.74 549.04 L137.37 552.21 L137.99 557.02 L138.62 563.14 L139.24 570.27 L139.87 578.09 L140.50 586.28 L141.12 594.53 L141.75 602.52 L142.37 609.94 L143.00 616.48 L143.63 621.82 L144.25 625.73 L144.88 628.31 L145.50 629.76 L146.13 630.27 L146.76 630.03 L147.38 629.22 L148.01 628.04 L148.63 626.68 L149.26 625.32 L149.89 624.17 L150.51 623.40 L151.14 623.22 L151.76 623.75 L152.39 624.92 L153.01 626.62 L153.64 628.70 L154.27 631.04 L154.89 633.52 L155.52 636.01 L156.14 638.38 L156.77 640.51 L157.40 642.27 L158.02 643.53 L158.65 644.16 L159.27 644.09 L159.90 643.38 L160.53 642.16 L161.15 640.54 L161.78 638.64 L162.40 636.58 L163.03 634.47 L163.66 632.44 L164.28 630.60 L164.91 629.07 L165.53 627.96 L166.16 627.41 L166.79 627.48 L167.41 628.11 L168.04 629.21 L168.66 630.67 L169.29 632.41 L169.92 634.31 L170.54 636.28 L171.17 638.22 L171.79 640.03 L172.42 641.61 L173.05 642.87 L173.67 643.70 L174.30 644.03 L174.92 643.90 L175.55 643.37 L176.18 642.50 L176.80 641.35 L177.43 639.99 L178.05 638.46 L178.68 636.85 L179.30 635.20 L179.93 633.58 L180.56 632.04 L181.18 630.67 L181.81 629.49 L182.43 628.53 L183.06 627.78 L183.69 627.26 L184.31 626.95 L184.94 626.87 L185.56 627.01 L186.19 627.37 L186.82 627.97 L187.44 628.79 L188.07 629.84 L188.69 631.13 L189.32 632.64 L189.95 634.34 L190.57 636.16 L191.20 638.05 L191.82 639.96 L192.45 641.83 L193.08 643.61 L193.70 645.25 L194.33 646.69 L194.95 647.88 L195.58 648.76 L196.21 649.29 L196.83 649.41 L197.46 649.16 L198.08 648.58 L198.71 647.72 L199.34 646.62 L199.96 645.32 L200.59 643.86 L201.21 642.29 L201.84 640.66 L202.47 639.00 L203.09 637.36 L203.72 635.79 L204.34 634.31 L204.97 632.94 L205.59 631.67 L206.22 630.51 L206.85 629.46 L207.47 628.51 L208.10 627.68 L208.72 626.94 L209.35 626.32 L209.98 625.80 L210.60 625.38 L211.23 625.08 L211.85 624.88 L212.48 624.78 L213.11 624.76 L213.73 624.82 L214.36 624.95 L214.98 625.14 L215.61 625.38 L216.24 625.65 L216.86 625.96 L217.49 626.28 L218.11 626.61 L218.74 626.94 L219.37 627.26 L219.99 627.57 L220.62 627.85 L221.24 628.10 L221.87 628.31 L222.50 628.49 L223.12 628.62 L223.75 628.69 L224.37 628.71 L225.00 628.66 L225.63 628.54 L226.25 628.34 L226.88 628.06 L227.50 627.70 L228.13 627.27 L228.76 626.78 L229.38 626.23 L230.01 625.63 L230.63 624.99 L231.26 624.31 L231.88 623.60 L232.51 622.87 L233.14 622.12 L233.76 621.36 L234.39 620.60 L235.01 619.86 L235.64 619.18 L236.27 618.59 L236.89 618.11 L237.52 617.78 L238.14 617.61 L238.77 617.65 L239.40 617.93 L240.02 618.46 L240.65 619.28 L241.27 620.42 L241.90 621.90 L242.53 623.64 L243.15 625.56 L243.78 627.57 L244.40 629.61 L245.03 631.57 L245.66 633.38 L246.28 634.95 L246.91 636.20 L247.53 637.04 L248.16 637.40 L248.79 637.18 L249.41 636.34 L250.04 634.96 L250.66 633.15 L251.29 631.02 L251.92 628.69 L252.54 626.27 L253.17 623.87 L253.79 621.61 L254.42 619.61 L255.05 617.97 L255.67 616.81 L256.30 616.24 L256.92 616.34 L257.55 617.04 L258.17 618.26 L258.80 619.90 L259.43 621.85 L260.05 624.02 L260.68 626.32 L261.30 628.64 L261.93 630.89 L262.56 632.98 L263.18 634.79 L263.81 636.25 L264.43 637.27 L265.06 637.89 L265.69 638.16 L266.31 638.12 L266.94 637.84 L267.56 637.37 L268.19 636.75 L268.82 636.06 L269.44 635.32 L270.07 634.61 L270.69 633.97 L271.32 633.46 L271.95 633.11 L272.57 632.92 L273.20 632.84 L273.82 632.87 L274.45 632.95 L275.08 633.08 L275.70 633.21 L276.33 633.32 L276.95 633.38 L277.58 633.37 L278.21 633.25 L278.83 632.99 L279.46 632.59 L280.08 632.06 L280.71 631.47 L281.34 630.84 L281.96 630.23 L282.59 629.68 L283.21 629.24 L283.84 628.95 L284.47 628.86 L285.09 629.01 L285.72 629.44 L286.34 630.20 L286.97 631.32 L287.59 632.79 L288.22 634.56 L288.85 636.61 L289.47 638.89 L290.10 641.37 L290.72 644.02 L291.35 646.81 L291.98 649.69 L292.60 652.64 L293.23 655.62 L293.85 658.60 L294.48 661.53 L295.11 664.42 L295.73 667.23 L296.36 669.96 L296.98 672.59 L297.61 675.11 L298.24 677.50 L298.86 679.75 L299.49 681.83 L300.11 683.75 L300.74 685.47 L301.37 686.99 L301.99 688.30 L302.62 689.42 L303.24 690.36 L303.87 691.16 L304.50 691.85 L305.12 692.44 L305.75 692.96 L306.37 693.43 L307.00 693.88 L307.63 694.34 L308.25 694.83 L308.88 695.37 L309.50 695.99 L310.13 696.67 L310.75 697.43 L311.38 698.24 L312.01 699.10 L312.63 700.01 L313.26 700.96 L313.88 701.95 L314.51 702.96 L315.14 703.99 L315.76 705.03 L316.39 706.08" stroke="#000" stroke-width="2" fill="none" stroke-linejoin="round"/>
<g fill="#e01212" stroke="#000" stroke-width="1.15"><circle cx="76.02" cy="642.30" r="3.45"/><circle cx="83.53" cy="613.91" r="3.45"/><circle cx="91.05" cy="624.61" r="3.45"/><circle cx="98.56" cy="623.22" r="3.45"/><circle cx="106.07" cy="646.96" r="3.45"/><circle cx="113.58" cy="665.58" r="3.45"/><circle cx="121.09" cy="658.13" r="3.45"/><circle cx="128.60" cy="627.87" r="3.45"/><circle cx="136.11" cy="547.81" r="3.45"/><circle cx="143.63" cy="621.82" r="3.45"/><circle cx="151.14" cy="623.22" r="3.45"/><circle cx="158.65" cy="644.16" r="3.45"/><circle cx="166.16" cy="627.41" r="3.45"/><circle cx="173.67" cy="643.70" r="3.45"/><circle cx="181.18" cy="630.67" r="3.45"/><circle cx="188.69" cy="631.13" r="3.45"/><circle cx="196.21" cy="649.29" r="3.45"/><circle cx="203.72" cy="635.79" r="3.45"/><circle cx="211.23" cy="625.08" r="3.45"/><circle cx="218.74" cy="626.94" r="3.45"/><circle cx="226.25" cy="628.34" r="3.45"/><circle cx="233.76" cy="621.36" r="3.45"/><circle cx="241.27" cy="620.42" r="3.45"/><circle cx="248.79" cy="637.18" r="3.45"/><circle cx="256.30" cy="616.24" r="3.45"/><circle cx="263.81" cy="636.25" r="3.45"/><circle cx="271.32" cy="633.46" r="3.45"/><circle cx="278.83" cy="632.99" r="3.45"/><circle cx="286.34" cy="630.20" r="3.45"/><circle cx="293.85" cy="658.60" r="3.45"/><circle cx="301.37" cy="686.99" r="3.45"/><circle cx="308.88" cy="695.37" r="3.45"/><circle cx="316.39" cy="706.08" r="3.45"/></g>
<path d="M76.02 632.06 L76.49 630.94 L76.96 629.82 L77.43 628.70 L77.90 627.58 L78.37 626.47 L78.84 625.38 L79.31 624.30 L79.78 623.25 L80.25 622.22 L80.72 621.22 L81.19 620.25 L81.66 619.32 L82.13 618.43 L82.60 617.58 L83.06 616.77 L83.53 616.02 L84.00 615.32 L84.47 614.67 L84.94 614.08 L85.41 613.55 L85.88 613.07 L86.35 612.66 L86.82 612.32 L87.29 612.04 L87.76 611.82 L88.23 611.68 L88.70 611.60 L89.17 611.58 L89.64 611.64 L90.11 611.76 L90.58 611.95 L91.05 612.21 L91.52 612.53 L91.98 612.92 L92.45 613.37 L92.92 613.88 L93.39 614.45 L93.86 615.08 L94.33 615.76 L94.80 616.50 L95.27 617.28 L95.74 618.11 L96.21 618.99 L96.68 619.91 L97.15 620.86 L97.62 621.85 L98.09 622.87 L98.56 623.92 L99.03 624.99 L99.50 626.08 L99.97 627.18 L100.44 628.29 L100.90 629.41 L101.37 630.54 L101.84 631.66 L102.31 632.78 L102.78 633.88 L103.25 634.98 L103.72 636.06 L104.19 637.11 L104.66 638.14 L105.13 639.14 L105.60 640.11 L106.07 641.05 L106.54 641.94 L107.01 642.79 L107.48 643.59 L107.95 644.35 L108.42 645.06 L108.89 645.71 L109.35 646.30 L109.82 646.83 L110.29 647.31 L110.76 647.72 L111.23 648.07 L111.70 648.35 L112.17 648.57 L112.64 648.72 L113.11 648.80 L113.58 648.82 L114.05 648.76 L114.52 648.64 L114.99 648.46 L115.46 648.20 L115.93 647.88 L116.40 647.50 L116.87 647.05 L117.34 646.54 L117.81 645.97 L118.27 645.35 L118.74 644.67 L119.21 643.93 L119.68 643.15 L120.15 642.32 L120.62 641.44 L121.09 640.53 L121.56 639.57 L122.03 638.59 L122.50 637.57 L122.97 636.52 L123.44 635.46 L123.91 634.37 L124.38 633.27 L124.85 632.15 L125.32 631.03 L125.79 629.91 L126.26 628.79 L126.72 627.67 L127.19 626.56 L127.66 625.46 L128.13 624.39 L128.60 623.33 L129.07 622.30 L129.54 621.30 L130.01 620.32 L130.48 619.39 L130.95 618.50 L131.42 617.64 L131.89 616.84 L132.36 616.08 L132.83 615.37 L133.30 614.72 L133.77 614.12 L134.24 613.59 L134.71 613.11 L135.18 612.69 L135.64 612.34 L136.11 612.06 L136.58 611.84 L137.05 611.69 L137.52 611.60 L137.99 611.58 L138.46 611.63 L138.93 611.75 L139.40 611.94 L139.87 612.19 L140.34 612.50 L140.81 612.89 L141.28 613.33 L141.75 613.84 L142.22 614.40 L142.69 615.03 L143.16 615.70 L143.63 616.44 L144.10 617.22 L144.56 618.05 L145.03 618.92 L145.50 619.83 L145.97 620.79 L146.44 621.77 L146.91 622.79 L147.38 623.83 L147.85 624.90 L148.32 625.99 L148.79 627.09 L149.26 628.20 L149.73 629.32 L150.20 630.45 L150.67 631.57 L151.14 632.69 L151.61 633.80 L152.08 634.89 L152.55 635.97 L153.01 637.03 L153.48 638.06 L153.95 639.07 L154.42 640.04 L154.89 640.97 L155.36 641.87 L155.83 642.72 L156.30 643.53 L156.77 644.29 L157.24 645.00 L157.71 645.66 L158.18 646.25 L158.65 646.79 L159.12 647.27 L159.59 647.69 L160.06 648.04 L160.53 648.33 L161.00 648.55 L161.47 648.71 L161.93 648.80 L162.40 648.82 L162.87 648.77 L163.34 648.66 L163.81 648.47 L164.28 648.22 L164.75 647.91 L165.22 647.53 L165.69 647.09 L166.16 646.58 L166.63 646.02 L167.10 645.40 L167.57 644.72 L168.04 643.99 L168.51 643.21 L168.98 642.39 L169.45 641.52 L169.92 640.60 L170.39 639.65 L170.85 638.67 L171.32 637.65 L171.79 636.61 L172.26 635.54 L172.73 634.46 L173.20 633.35 L173.67 632.24 L174.14 631.12 L174.61 630.00 L175.08 628.87 L175.55 627.76 L176.02 626.65 L176.49 625.55 L176.96 624.47 L177.43 623.41 L177.90 622.38 L178.37 621.37 L178.84 620.40 L179.30 619.46 L179.77 618.57 L180.24 617.71 L180.71 616.90 L181.18 616.14 L181.65 615.43 L182.12 614.77 L182.59 614.17 L183.06 613.63 L183.53 613.14 L184.00 612.73 L184.47 612.37 L184.94 612.08 L185.41 611.85 L185.88 611.69 L186.35 611.60 L186.82 611.58 L187.29 611.63 L187.76 611.74 L188.22 611.92 L188.69 612.16 L189.16 612.48 L189.63 612.85 L190.10 613.29 L190.57 613.79 L191.04 614.36 L191.51 614.97 L191.98 615.65 L192.45 616.38 L192.92 617.15 L193.39 617.98 L193.86 618.85 L194.33 619.76 L194.80 620.71 L195.27 621.69 L195.74 622.71 L196.21 623.75 L196.68 624.82 L197.14 625.90 L197.61 627.00 L198.08 628.11 L198.55 629.23 L199.02 630.36 L199.49 631.48 L199.96 632.60 L200.43 633.71 L200.90 634.81 L201.37 635.89 L201.84 636.94 L202.31 637.98 L202.78 638.99 L203.25 639.96 L203.72 640.90 L204.19 641.80 L204.66 642.66 L205.13 643.47 L205.59 644.23 L206.06 644.95 L206.53 645.61 L207.00 646.21 L207.47 646.75 L207.94 647.24 L208.41 647.66 L208.88 648.02 L209.35 648.31 L209.82 648.54 L210.29 648.70 L210.76 648.79 L211.23 648.82 L211.70 648.78 L212.17 648.67 L212.64 648.49 L213.11 648.25 L213.58 647.94 L214.05 647.56 L214.51 647.13 L214.98 646.63 L215.45 646.07 L215.92 645.45 L216.39 644.78 L216.86 644.05 L217.33 643.28 L217.80 642.46 L218.27 641.59 L218.74 640.68 L219.21 639.73 L219.68 638.75 L220.15 637.73 L220.62 636.69 L221.09 635.63 L221.56 634.54 L222.03 633.44 L222.50 632.33 L222.97 631.21 L223.43 630.09 L223.90 628.96 L224.37 627.85 L224.84 626.74 L225.31 625.64 L225.78 624.56 L226.25 623.50 L226.72 622.46 L227.19 621.45 L227.66 620.48 L228.13 619.54 L228.60 618.64 L229.07 617.78 L229.54 616.96 L230.01 616.20 L230.48 615.48 L230.95 614.82 L231.42 614.22 L231.88 613.67 L232.35 613.18 L232.82 612.76 L233.29 612.40 L233.76 612.10 L234.23 611.87 L234.70 611.70 L235.17 611.61 L235.64 611.58 L236.11 611.62 L236.58 611.73 L237.05 611.90 L237.52 612.14 L237.99 612.45 L238.46 612.82 L238.93 613.26 L239.40 613.75 L239.87 614.31 L240.34 614.92 L240.80 615.59 L241.27 616.32 L241.74 617.09 L242.21 617.91 L242.68 618.78 L243.15 619.69 L243.62 620.63 L244.09 621.61 L244.56 622.63 L245.03 623.67 L245.50 624.73 L245.97 625.81 L246.44 626.91 L246.91 628.02 L247.38 629.14 L247.85 630.27 L248.32 631.39 L248.79 632.51 L249.26 633.62 L249.72 634.72 L250.19 635.80 L250.66 636.86 L251.13 637.90 L251.60 638.91 L252.07 639.88 L252.54 640.83 L253.01 641.73 L253.48 642.59 L253.95 643.41 L254.42 644.17 L254.89 644.89 L255.36 645.55 L255.83 646.16 L256.30 646.71 L256.77 647.20 L257.24 647.63 L257.71 647.99 L258.17 648.29 L258.64 648.52 L259.11 648.69 L259.58 648.79 L260.05 648.82 L260.52 648.78 L260.99 648.68 L261.46 648.51 L261.93 648.27 L262.40 647.96 L262.87 647.60 L263.34 647.16 L263.81 646.67 L264.28 646.12 L264.75 645.50 L265.22 644.84 L265.69 644.11 L266.16 643.34 L266.63 642.52 L267.09 641.66 L267.56 640.75 L268.03 639.81 L268.50 638.83 L268.97 637.82 L269.44 636.78 L269.91 635.71 L270.38 634.63 L270.85 633.53 L271.32 632.42 L271.79 631.30 L272.26 630.18 L272.73 629.05 L273.20 627.94 L273.67 626.82 L274.14 625.73 L274.61 624.64 L275.08 623.58 L275.55 622.54 L276.01 621.53 L276.48 620.55 L276.95 619.61 L277.42 618.71 L277.89 617.84 L278.36 617.03 L278.83 616.26 L279.30 615.54 L279.77 614.87 L280.24 614.26 L280.71 613.71 L281.18 613.22 L281.65 612.79 L282.12 612.42 L282.59 612.12 L283.06 611.88 L283.53 611.72 L284.00 611.61 L284.47 611.58 L284.93 611.61 L285.40 611.72 L285.87 611.88 L286.34 612.12 L286.81 612.42 L287.28 612.79 L287.75 613.22 L288.22 613.71 L288.69 614.26 L289.16 614.87 L289.63 615.54 L290.10 616.26 L290.57 617.03 L291.04 617.84 L291.51 618.71 L291.98 619.61 L292.45 620.55 L292.92 621.53 L293.38 622.54 L293.85 623.58 L294.32 624.64 L294.79 625.73 L295.26 626.82 L295.73 627.94 L296.20 629.05 L296.67 630.18 L297.14 631.30 L297.61 632.42 L298.08 633.53 L298.55 634.63 L299.02 635.71 L299.49 636.78 L299.96 637.82 L300.43 638.83 L300.90 639.81 L301.37 640.75 L301.84 641.66 L302.30 642.52 L302.77 643.34 L303.24 644.11 L303.71 644.84 L304.18 645.50 L304.65 646.12 L305.12 646.67 L305.59 647.16 L306.06 647.60 L306.53 647.96 L307.00 648.27 L307.47 648.51 L307.94 648.68 L308.41 648.78 L308.88 648.82 L309.35 648.79 L309.82 648.69 L310.29 648.52 L310.75 648.29 L311.22 647.99 L311.69 647.63 L312.16 647.20 L312.63 646.71 L313.10 646.16 L313.57 645.55 L314.04 644.89 L314.51 644.17 L314.98 643.41 L315.45 642.59 L315.92 641.73 L316.39 640.83" stroke="#cc0cee" stroke-width="2.6" fill="none" stroke-linejoin="round"/>
<rect x="422.40" y="15.00" width="263.50" height="184.60" fill="none" stroke="#000" stroke-width="1.9"/>
<text class="tk" x="414.17" y="231.60">7</text><text class="tk" x="422.40" y="231.60">0</text>
<text class="tk" x="480.05" y="231.60">8</text><text class="tk" x="488.27" y="231.60">0</text>
<text class="tk" x="545.92" y="231.60">9</text><text class="tk" x="554.15" y="231.60">0</text>
<path d="M760 0L475 0L475 1050Q320 905 109 835L109 1090Q220 1126 350 1227Q480 1328 528 1466L760 1466Z" transform="translate(607.68,231.60) scale(0.00723,-0.00723)" fill="#111"/><text class="tk" x="615.91" y="231.60">0</text><text class="tk" x="624.14" y="231.60">0</text>
<path d="M760 0L475 0L475 1050Q320 905 109 835L109 1090Q220 1126 350 1227Q480 1328 528 1466L760 1466Z" transform="translate(673.56,231.60) scale(0.00723,-0.00723)" fill="#111"/><path d="M760 0L475 0L475 1050Q320 905 109 835L109 1090Q220 1126 350 1227Q480 1328 528 1466L760 1466Z" transform="translate(681.79,231.60) scale(0.00723,-0.00723)" fill="#111"/><text class="tk" x="690.01" y="231.60">0</text>
<text class="tk" x="395.87" y="19.50">8</text>
<text class="tk" x="395.87" y="81.03">4</text>
<text class="tk" x="395.87" y="142.57">0</text>
<text class="tk" x="390.94" y="204.10">-</text><text class="tk" x="395.87" y="204.10">4</text>
<path d="M422.40 199.60 V210.40 M488.27 199.60 V210.40 M554.15 199.60 V210.40 M620.02 199.60 V210.40 M685.90 199.60 V210.40 M422.40 15.00 H411.60 M422.40 76.53 H411.60 M422.40 138.07 H411.60 M422.40 199.60 H411.60" stroke="#000" stroke-width="1.9" fill="none"/>
<text class="lt" x="349.50" y="16.00">D</text>
<text class="xt" x="559.00" y="251.00" text-anchor="middle">Residue Position</text>
<g transform="translate(361.30,208.00) rotate(-90)">
<text class="yl" x="0.00" y="16.60" font-size="14.0" textLength="26.20" lengthAdjust="spacing">MFI</text>
<text class="yl" x="28.00" y="10.60" font-size="10.0" textLength="36.10" lengthAdjust="spacing">Mutant</text>
<text class="yl" x="27.60" y="20.00" font-size="10.0" textLength="48.30" lengthAdjust="spacing">depletion</text>
<rect x="77.80" y="11.9" width="3.4" height="2.1" fill="#111"/>
<text class="yl" x="85.00" y="16.60" font-size="14.0" textLength="26.60" lengthAdjust="spacing">MFI</text>
<text class="yl" x="113.00" y="19.80" font-size="10.0" textLength="17.60" lengthAdjust="spacing">avg</text>
<text class="yl" x="133.40" y="23.60" font-size="10.0" textLength="48.10" lengthAdjust="spacing">depletion</text>
<text class="yl" x="134.30" y="10.40" font-size="10.0" textLength="35.60" lengthAdjust="spacing">Mutant</text>
</g>
<path d="M435.57 149.45 L436.12 148.44 L436.67 147.43 L437.22 146.41 L437.77 145.39 L438.32 144.36 L438.87 143.33 L439.42 142.28 L439.97 141.22 L440.52 140.15 L441.06 139.06 L441.61 137.96 L442.16 136.84 L442.71 135.70 L443.26 134.55 L443.81 133.43 L444.36 132.34 L444.91 131.30 L445.46 130.33 L446.01 129.45 L446.55 128.67 L447.10 128.02 L447.65 127.51 L448.20 127.16 L448.75 126.99 L449.30 127.01 L449.85 127.20 L450.40 127.55 L450.95 128.03 L451.49 128.62 L452.04 129.29 L452.59 130.03 L453.14 130.81 L453.69 131.61 L454.24 132.41 L454.79 133.18 L455.34 133.91 L455.89 134.58 L456.44 135.21 L456.98 135.80 L457.53 136.37 L458.08 136.95 L458.63 137.56 L459.18 138.21 L459.73 138.91 L460.28 139.69 L460.83 140.57 L461.38 141.56 L461.92 142.68 L462.47 143.94 L463.02 145.30 L463.57 146.70 L464.12 148.10 L464.67 149.44 L465.22 150.68 L465.77 151.76 L466.32 152.63 L466.87 153.24 L467.41 153.53 L467.96 153.47 L468.51 152.99 L469.06 152.06 L469.61 150.74 L470.16 149.09 L470.71 147.18 L471.26 145.08 L471.81 142.85 L472.36 140.56 L472.90 138.29 L473.45 136.10 L474.00 134.05 L474.55 132.23 L475.10 130.68 L475.65 129.47 L476.20 128.58 L476.75 127.95 L477.30 127.55 L477.84 127.33 L478.39 127.25 L478.94 127.28 L479.49 127.37 L480.04 127.47 L480.59 127.54 L481.14 127.55 L481.69 127.45 L482.24 127.22 L482.79 126.88 L483.33 126.50 L483.88 126.12 L484.43 125.79 L484.98 125.58 L485.53 125.52 L486.08 125.68 L486.63 126.10 L487.18 126.83 L487.73 127.93 L488.27 129.45 L488.82 131.42 L489.37 133.76 L489.92 136.37 L490.47 139.16 L491.02 142.03 L491.57 144.88 L492.12 147.61 L492.67 150.12 L493.22 152.32 L493.76 154.11 L494.31 155.39 L494.86 156.07 L495.41 156.06 L495.96 155.44 L496.51 154.28 L497.06 152.67 L497.61 150.70 L498.16 148.45 L498.71 146.01 L499.25 143.46 L499.80 140.89 L500.35 138.38 L500.90 136.03 L501.45 133.91 L502.00 132.10 L502.55 130.60 L503.10 129.38 L503.65 128.44 L504.19 127.76 L504.74 127.33 L505.29 127.12 L505.84 127.13 L506.39 127.34 L506.94 127.73 L507.49 128.28 L508.04 128.99 L508.59 129.83 L509.14 130.78 L509.68 131.82 L510.23 132.90 L510.78 134.02 L511.33 135.13 L511.88 136.21 L512.43 137.24 L512.98 138.18 L513.53 139.01 L514.08 139.70 L514.62 140.22 L515.17 140.56 L515.72 140.74 L516.27 140.81 L516.82 140.80 L517.37 140.74 L517.92 140.68 L518.47 140.65 L519.02 140.70 L519.57 140.86 L520.11 141.16 L520.66 141.66 L521.21 142.37 L521.76 143.34 L522.31 144.52 L522.86 145.88 L523.41 147.36 L523.96 148.91 L524.51 150.50 L525.06 152.07 L525.60 153.58 L526.15 154.98 L526.70 156.22 L527.25 157.27 L527.80 158.06 L528.35 158.59 L528.90 158.87 L529.45 158.98 L530.00 158.96 L530.54 158.89 L531.09 158.81 L531.64 158.78 L532.19 158.86 L532.74 159.11 L533.29 159.59 L533.84 160.35 L534.39 161.45 L534.94 162.91 L535.49 164.56 L536.03 166.20 L536.58 167.63 L537.13 168.63 L537.68 169.01 L538.23 168.56 L538.78 167.08 L539.33 164.35 L539.88 160.18 L540.43 154.36 L540.98 146.68 L541.52 137.06 L542.07 125.85 L542.62 113.53 L543.17 100.58 L543.72 87.46 L544.27 74.66 L544.82 62.64 L545.37 51.89 L545.92 42.87 L546.46 36.07 L547.01 31.95 L547.56 31.00 L548.11 33.52 L548.66 39.17 L549.21 47.45 L549.76 57.86 L550.31 69.89 L550.86 83.04 L551.41 96.81 L551.95 110.69 L552.50 124.18 L553.05 136.78 L553.60 147.99 L554.15 157.30 L554.70 164.33 L555.25 169.22 L555.80 172.24 L556.35 173.63 L556.89 173.67 L557.44 172.61 L557.99 170.72 L558.54 168.26 L559.09 165.49 L559.64 162.66 L560.19 160.05 L560.74 157.91 L561.29 156.44 L561.84 155.60 L562.38 155.26 L562.93 155.33 L563.48 155.69 L564.03 156.22 L564.58 156.83 L565.13 157.39 L565.68 157.80 L566.23 157.94 L566.78 157.71 L567.33 156.99 L567.87 155.71 L568.42 153.92 L568.97 151.74 L569.52 149.25 L570.07 146.56 L570.62 143.75 L571.17 140.93 L571.72 138.20 L572.27 135.65 L572.81 133.38 L573.36 131.48 L573.91 130.07 L574.46 129.20 L575.01 128.83 L575.56 128.90 L576.11 129.35 L576.66 130.10 L577.21 131.08 L577.76 132.24 L578.30 133.50 L578.85 134.79 L579.40 136.06 L579.95 137.22 L580.50 138.22 L581.05 139.00 L581.60 139.58 L582.15 139.99 L582.70 140.25 L583.24 140.39 L583.79 140.44 L584.34 140.44 L584.89 140.40 L585.44 140.36 L585.99 140.35 L586.54 140.40 L587.09 140.53 L587.64 140.76 L588.19 141.10 L588.73 141.51 L589.28 141.98 L589.83 142.49 L590.38 143.03 L590.93 143.57 L591.48 144.10 L592.03 144.61 L592.58 145.06 L593.13 145.45 L593.67 145.76 L594.22 145.97 L594.77 146.06 L595.32 146.05 L595.87 145.90 L596.42 145.63 L596.97 145.22 L597.52 144.67 L598.07 143.96 L598.62 143.09 L599.16 142.06 L599.71 140.84 L600.26 139.45 L600.81 137.88 L601.36 136.17 L601.91 134.38 L602.46 132.55 L603.01 130.76 L603.56 129.03 L604.11 127.44 L604.65 126.03 L605.20 124.86 L605.75 123.98 L606.30 123.44 L606.85 123.30 L607.40 123.59 L607.95 124.26 L608.50 125.27 L609.05 126.54 L609.59 128.02 L610.14 129.64 L610.69 131.35 L611.24 133.08 L611.79 134.76 L612.34 136.35 L612.89 137.78 L613.44 138.99 L613.99 139.93 L614.54 140.61 L615.08 141.07 L615.63 141.33 L616.18 141.42 L616.73 141.36 L617.28 141.19 L617.83 140.93 L618.38 140.62 L618.93 140.27 L619.48 139.93 L620.02 139.61 L620.57 139.33 L621.12 139.11 L621.67 138.94 L622.22 138.83 L622.77 138.76 L623.32 138.74 L623.87 138.77 L624.42 138.85 L624.97 138.97 L625.51 139.14 L626.06 139.35 L626.61 139.61 L627.16 139.90 L627.71 140.23 L628.26 140.57 L628.81 140.92 L629.36 141.25 L629.91 141.56 L630.46 141.84 L631.00 142.07 L631.55 142.23 L632.10 142.32 L632.65 142.32 L633.20 142.22 L633.75 142.01 L634.30 141.70 L634.85 141.31 L635.40 140.86 L635.94 140.36 L636.49 139.83 L637.04 139.29 L637.59 138.75 L638.14 138.24 L638.69 137.76 L639.24 137.34 L639.79 136.99 L640.34 136.73 L640.89 136.55 L641.43 136.43 L641.98 136.38 L642.53 136.38 L643.08 136.42 L643.63 136.50 L644.18 136.59 L644.73 136.70 L645.28 136.80 L645.83 136.91 L646.38 136.99 L646.92 137.05 L647.47 137.08 L648.02 137.10 L648.57 137.10 L649.12 137.09 L649.67 137.07 L650.22 137.05 L650.77 137.02 L651.32 137.00 L651.86 136.98 L652.41 136.98 L652.96 136.99 L653.51 137.02 L654.06 137.06 L654.61 137.12 L655.16 137.19 L655.71 137.27 L656.26 137.37 L656.81 137.47 L657.35 137.58 L657.90 137.70 L658.45 137.82 L659.00 137.94 L659.55 138.07" stroke="#000" stroke-width="2" fill="none" stroke-linejoin="round"/>
<g fill="#e01212" stroke="#000" stroke-width="1.15"><circle cx="435.57" cy="149.45" r="3.45"/><circle cx="442.16" cy="136.84" r="3.45"/><circle cx="448.75" cy="126.99" r="3.45"/><circle cx="455.34" cy="133.91" r="3.45"/><circle cx="461.92" cy="142.68" r="3.45"/><circle cx="468.51" cy="152.99" r="3.45"/><circle cx="475.10" cy="130.68" r="3.45"/><circle cx="481.69" cy="127.45" r="3.45"/><circle cx="488.27" cy="129.45" r="3.45"/><circle cx="494.86" cy="156.07" r="3.45"/><circle cx="501.45" cy="133.91" r="3.45"/><circle cx="508.04" cy="128.99" r="3.45"/><circle cx="514.62" cy="140.22" r="3.45"/><circle cx="521.21" cy="142.37" r="3.45"/><circle cx="527.80" cy="158.06" r="3.45"/><circle cx="534.39" cy="161.45" r="3.45"/><circle cx="540.98" cy="146.68" r="3.45"/><circle cx="547.56" cy="31.00" r="3.45"/><circle cx="554.15" cy="157.30" r="3.45"/><circle cx="560.74" cy="157.91" r="3.45"/><circle cx="567.33" cy="156.99" r="3.45"/><circle cx="573.91" cy="130.07" r="3.45"/><circle cx="580.50" cy="138.22" r="3.45"/><circle cx="587.09" cy="140.53" r="3.45"/><circle cx="593.67" cy="145.76" r="3.45"/><circle cx="600.26" cy="139.45" r="3.45"/><circle cx="606.85" cy="123.30" r="3.45"/><circle cx="613.44" cy="138.99" r="3.45"/><circle cx="620.02" cy="139.61" r="3.45"/><circle cx="626.61" cy="139.61" r="3.45"/><circle cx="633.20" cy="142.22" r="3.45"/><circle cx="639.79" cy="136.99" r="3.45"/><circle cx="646.38" cy="136.99" r="3.45"/><circle cx="652.96" cy="136.99" r="3.45"/><circle cx="659.55" cy="138.07" r="3.45"/></g>
<path d="M435.57 144.65 L435.99 145.37 L436.40 146.02 L436.81 146.60 L437.22 147.11 L437.63 147.53 L438.05 147.86 L438.46 148.11 L438.87 148.26 L439.28 148.33 L439.69 148.29 L440.10 148.17 L440.52 147.95 L440.93 147.65 L441.34 147.25 L441.75 146.77 L442.16 146.22 L442.57 145.59 L442.99 144.89 L443.40 144.13 L443.81 143.31 L444.22 142.45 L444.63 141.54 L445.04 140.61 L445.46 139.65 L445.87 138.67 L446.28 137.69 L446.69 136.72 L447.10 135.76 L447.51 134.81 L447.93 133.90 L448.34 133.03 L448.75 132.20 L449.16 131.42 L449.57 130.71 L449.99 130.06 L450.40 129.49 L450.81 128.99 L451.22 128.57 L451.63 128.25 L452.04 128.01 L452.46 127.86 L452.87 127.81 L453.28 127.85 L453.69 127.98 L454.10 128.20 L454.51 128.52 L454.93 128.92 L455.34 129.40 L455.75 129.96 L456.16 130.60 L456.57 131.30 L456.98 132.07 L457.40 132.89 L457.81 133.76 L458.22 134.67 L458.63 135.60 L459.04 136.56 L459.45 137.54 L459.87 138.52 L460.28 139.49 L460.69 140.45 L461.10 141.39 L461.51 142.30 L461.92 143.17 L462.34 144.00 L462.75 144.77 L463.16 145.48 L463.57 146.12 L463.98 146.69 L464.40 147.18 L464.81 147.59 L465.22 147.91 L465.63 148.14 L466.04 148.28 L466.45 148.33 L466.87 148.28 L467.28 148.14 L467.69 147.91 L468.10 147.59 L468.51 147.18 L468.92 146.69 L469.34 146.12 L469.75 145.48 L470.16 144.77 L470.57 144.00 L470.98 143.17 L471.39 142.30 L471.81 141.39 L472.22 140.45 L472.63 139.49 L473.04 138.52 L473.45 137.54 L473.86 136.56 L474.28 135.60 L474.69 134.67 L475.10 133.76 L475.51 132.89 L475.92 132.07 L476.34 131.30 L476.75 130.60 L477.16 129.96 L477.57 129.40 L477.98 128.92 L478.39 128.52 L478.81 128.20 L479.22 127.98 L479.63 127.85 L480.04 127.81 L480.45 127.86 L480.86 128.01 L481.28 128.25 L481.69 128.57 L482.10 128.99 L482.51 129.49 L482.92 130.06 L483.33 130.71 L483.75 131.42 L484.16 132.20 L484.57 133.03 L484.98 133.90 L485.39 134.81 L485.80 135.76 L486.22 136.72 L486.63 137.69 L487.04 138.67 L487.45 139.65 L487.86 140.61 L488.27 141.54 L488.69 142.45 L489.10 143.31 L489.51 144.13 L489.92 144.89 L490.33 145.59 L490.75 146.22 L491.16 146.77 L491.57 147.25 L491.98 147.65 L492.39 147.95 L492.80 148.17 L493.22 148.29 L493.63 148.33 L494.04 148.26 L494.45 148.11 L494.86 147.86 L495.27 147.53 L495.69 147.11 L496.10 146.60 L496.51 146.02 L496.92 145.37 L497.33 144.65 L497.74 143.87 L498.16 143.04 L498.57 142.16 L498.98 141.24 L499.39 140.30 L499.80 139.34 L500.21 138.36 L500.63 137.38 L501.04 136.41 L501.45 135.45 L501.86 134.52 L502.27 133.62 L502.69 132.76 L503.10 131.94 L503.51 131.19 L503.92 130.49 L504.33 129.87 L504.74 129.32 L505.16 128.85 L505.57 128.46 L505.98 128.16 L506.39 127.95 L506.80 127.83 L507.21 127.81 L507.63 127.88 L508.04 128.04 L508.45 128.29 L508.86 128.63 L509.27 129.06 L509.68 129.57 L510.10 130.16 L510.51 130.82 L510.92 131.54 L511.33 132.33 L511.74 133.16 L512.15 134.05 L512.57 134.96 L512.98 135.91 L513.39 136.87 L513.80 137.85 L514.21 138.83 L514.62 139.80 L515.04 140.76 L515.45 141.69 L515.86 142.59 L516.27 143.44 L516.68 144.25 L517.10 145.00 L517.51 145.69 L517.92 146.31 L518.33 146.86 L518.74 147.32 L519.15 147.70 L519.57 147.99 L519.98 148.20 L520.39 148.31 L520.80 148.32 L521.21 148.25" stroke="#1212ea" stroke-width="2.6" fill="none" stroke-linejoin="round"/>
<path d="M527.80 152.18 L528.21 156.68 L528.62 161.03 L529.04 165.17 L529.45 169.07 L529.86 172.69 L530.27 176.01 L530.68 178.99 L531.09 181.61 L531.51 183.84 L531.92 185.67 L532.33 187.07 L532.74 188.05 L533.15 188.57 L533.56 188.65 L533.98 188.29 L534.39 187.47 L534.80 186.22 L535.21 184.55 L535.62 182.46 L536.03 179.98 L536.45 177.12 L536.86 173.92 L537.27 170.40 L537.68 166.60 L538.09 162.54 L538.50 158.27 L538.92 153.82 L539.33 149.22 L539.74 144.53 L540.15 139.78 L540.56 135.02 L540.98 130.28 L541.39 125.61 L541.80 121.06 L542.21 116.65 L542.62 112.43 L543.03 108.44 L543.45 104.71 L543.86 101.28 L544.27 98.18 L544.68 95.42 L545.09 93.05 L545.50 91.07 L545.92 89.52 L546.33 88.39 L546.74 87.70 L547.15 87.46 L547.56 87.66 L547.97 88.32 L548.39 89.41 L548.80 90.93 L549.21 92.88 L549.62 95.22 L550.03 97.94 L550.44 101.02 L550.86 104.43 L551.27 108.13 L551.68 112.10 L552.09 116.30 L552.50 120.70 L552.91 125.24 L553.33 129.90 L553.74 134.64 L554.15 139.40 L554.56 144.15 L554.97 148.85 L555.39 153.45 L555.80 157.92 L556.21 162.21 L556.62 166.28 L557.03 170.11 L557.44 173.65 L557.86 176.88 L558.27 179.76 L558.68 182.27 L559.09 184.39 L559.50 186.11 L559.91 187.39 L560.33 188.24 L560.74 188.64 L561.15 188.60 L561.56 188.10 L561.97 187.17 L562.38 185.80 L562.80 184.00 L563.21 181.80 L563.62 179.21 L564.03 176.26 L564.44 172.97 L564.85 169.37 L565.27 165.49 L565.68 161.37 L566.09 157.04 L566.50 152.54 L566.91 147.92 L567.33 143.21" stroke="#468a24" stroke-width="2.6" fill="none" stroke-linejoin="round"/>
<path d="M573.91 134.84 L574.32 134.16 L574.74 133.52 L575.15 132.91 L575.56 132.36 L575.97 131.85 L576.38 131.40 L576.79 131.01 L577.21 130.69 L577.62 130.43 L578.03 130.24 L578.44 130.12 L578.85 130.07 L579.26 130.09 L579.68 130.19 L580.09 130.36 L580.50 130.59 L580.91 130.90 L581.32 131.27 L581.74 131.70 L582.15 132.19 L582.56 132.73 L582.97 133.32 L583.38 133.95 L583.79 134.62 L584.21 135.32 L584.62 136.05 L585.03 136.79 L585.44 137.55 L585.85 138.31 L586.26 139.07 L586.68 139.82 L587.09 140.55 L587.50 141.26 L587.91 141.94 L588.32 142.59 L588.73 143.20 L589.15 143.76 L589.56 144.26 L589.97 144.72 L590.38 145.11 L590.79 145.44 L591.20 145.70 L591.62 145.89 L592.03 146.01 L592.44 146.06 L592.85 146.04 L593.26 145.95 L593.67 145.78 L594.09 145.55 L594.50 145.25 L594.91 144.88 L595.32 144.45 L595.73 143.96 L596.15 143.43 L596.56 142.84 L596.97 142.21 L597.38 141.54 L597.79 140.84 L598.20 140.11 L598.62 139.37 L599.03 138.61 L599.44 137.85 L599.85 137.10 L600.26 136.35 L600.67 135.61 L601.09 134.90 L601.50 134.22 L601.91 133.57 L602.32 132.96 L602.73 132.40 L603.14 131.89 L603.56 131.43 L603.97 131.04 L604.38 130.71 L604.79 130.44 L605.20 130.25 L605.61 130.12 L606.03 130.07 L606.44 130.09 L606.85 130.18 L607.26 130.34 L607.67 130.57 L608.09 130.87 L608.50 131.24 L608.91 131.66 L609.32 132.15 L609.73 132.69 L610.14 133.27 L610.56 133.90 L610.97 134.57 L611.38 135.27 L611.79 135.99 L612.20 136.73 L612.61 137.49 L613.03 138.25 L613.44 139.01" stroke="#84921e" stroke-width="2.6" fill="none" stroke-linejoin="round"/>
<rect x="419.70" y="277.10" width="266.40" height="179.00" fill="none" stroke="#000" stroke-width="1.9"/>
<text class="tk" x="444.77" y="486.60">5</text><text class="tk" x="453.00" y="486.60">0</text>
<text class="tk" x="511.37" y="486.60">6</text><text class="tk" x="519.60" y="486.60">0</text>
<text class="tk" x="577.97" y="486.60">7</text><text class="tk" x="586.20" y="486.60">0</text>
<text class="tk" x="644.57" y="486.60">8</text><text class="tk" x="652.80" y="486.60">0</text>
<text class="tk" x="393.17" y="299.50">2</text>
<path d="M760 0L475 0L475 1050Q320 905 109 835L109 1090Q220 1126 350 1227Q480 1328 528 1466L760 1466Z" transform="translate(393.17,344.25) scale(0.00723,-0.00723)" fill="#111"/>
<text class="tk" x="393.17" y="389.00">0</text>
<text class="tk" x="388.24" y="433.75">-</text><path d="M760 0L475 0L475 1050Q320 905 109 835L109 1090Q220 1126 350 1227Q480 1328 528 1466L760 1466Z" transform="translate(393.17,433.75) scale(0.00723,-0.00723)" fill="#111"/>
<path d="M453.00 456.10 V466.90 M519.60 456.10 V466.90 M586.20 456.10 V466.90 M652.80 456.10 V466.90 M419.70 295.00 H408.90 M419.70 339.75 H408.90 M419.70 384.50 H408.90 M419.70 429.25 H408.90" stroke="#000" stroke-width="1.9" fill="none"/>
<text class="lt" x="349.00" y="264.10">E</text>
<text class="xt" x="559.00" y="508.60" text-anchor="middle">Residue Position</text>
<g transform="translate(361.30,456.30) rotate(-90)">
<text class="yl" x="0.00" y="16.60" font-size="14.0" textLength="26.20" lengthAdjust="spacing">MFI</text>
<text class="yl" x="28.00" y="10.60" font-size="10.0" textLength="36.10" lengthAdjust="spacing">Mutant</text>
<text class="yl" x="27.60" y="20.00" font-size="10.0" textLength="48.30" lengthAdjust="spacing">depletion</text>
<rect x="77.80" y="11.9" width="3.4" height="2.1" fill="#111"/>
<text class="yl" x="85.00" y="16.60" font-size="14.0" textLength="26.60" lengthAdjust="spacing">MFI</text>
<text class="yl" x="113.00" y="19.80" font-size="10.0" textLength="17.60" lengthAdjust="spacing">avg</text>
<text class="yl" x="133.40" y="23.60" font-size="10.0" textLength="48.10" lengthAdjust="spacing">depletion</text>
<text class="yl" x="134.30" y="10.40" font-size="10.0" textLength="35.60" lengthAdjust="spacing">Mutant</text>
</g>
<path d="M439.68 346.46 L440.24 354.01 L440.79 361.46 L441.34 368.75 L441.90 375.79 L442.45 382.48 L443.01 388.75 L443.56 394.51 L444.12 399.67 L444.68 404.16 L445.23 407.88 L445.78 410.75 L446.34 412.69 L446.89 413.65 L447.45 413.76 L448.00 413.18 L448.56 412.07 L449.11 410.61 L449.67 408.95 L450.23 407.27 L450.78 405.72 L451.33 404.47 L451.89 403.69 L452.44 403.54 L453.00 404.19 L453.56 405.73 L454.11 407.96 L454.66 410.63 L455.22 413.45 L455.77 416.18 L456.33 418.53 L456.88 420.26 L457.44 421.07 L458.00 420.72 L458.55 418.94 L459.10 415.46 L459.66 410.01 L460.22 402.44 L460.77 393.08 L461.32 382.37 L461.88 370.73 L462.44 358.62 L462.99 346.47 L463.55 334.71 L464.10 323.79 L464.65 314.14 L465.21 306.21 L465.76 300.43 L466.32 297.24 L466.88 296.94 L467.43 299.33 L467.99 304.07 L468.54 310.81 L469.09 319.20 L469.65 328.91 L470.21 339.60 L470.76 350.92 L471.31 362.53 L471.87 374.09 L472.42 385.26 L472.98 395.69 L473.54 405.09 L474.09 413.41 L474.64 420.63 L475.20 426.75 L475.75 431.74 L476.31 435.61 L476.87 438.35 L477.42 439.93 L477.98 440.36 L478.53 439.63 L479.08 437.72 L479.64 434.62 L480.19 430.37 L480.75 425.14 L481.31 419.17 L481.86 412.67 L482.41 405.86 L482.97 398.97 L483.53 392.23 L484.08 385.84 L484.63 380.04 L485.19 375.05 L485.75 371.09 L486.30 368.39 L486.86 367.09 L487.41 367.05 L487.97 368.05 L488.52 369.88 L489.07 372.33 L489.63 375.18 L490.19 378.20 L490.74 381.20 L491.29 383.94 L491.85 386.22 L492.40 387.82 L492.96 388.53 L493.51 388.19 L494.07 386.91 L494.62 384.87 L495.18 382.24 L495.74 379.21 L496.29 375.94 L496.84 372.61 L497.40 369.40 L497.95 366.48 L498.51 364.03 L499.06 362.22 L499.62 361.23 L500.17 361.18 L500.73 362.02 L501.28 363.61 L501.84 365.85 L502.39 368.62 L502.95 371.79 L503.50 375.27 L504.06 378.92 L504.62 382.64 L505.17 386.30 L505.73 389.80 L506.28 393.00 L506.83 395.83 L507.39 398.26 L507.94 400.30 L508.50 401.96 L509.05 403.25 L509.61 404.17 L510.16 404.73 L510.72 404.94 L511.27 404.80 L511.83 404.33 L512.38 403.53 L512.94 402.40 L513.50 400.96 L514.05 399.25 L514.61 397.29 L515.16 395.14 L515.72 392.81 L516.27 390.36 L516.82 387.82 L517.38 385.23 L517.93 382.63 L518.49 380.05 L519.04 377.52 L519.60 375.10 L520.15 372.82 L520.71 370.76 L521.26 368.99 L521.82 367.59 L522.38 366.64 L522.93 366.22 L523.49 366.40 L524.04 367.26 L524.60 368.89 L525.15 371.36 L525.70 374.75 L526.26 379.13 L526.81 384.52 L527.37 390.70 L527.92 397.35 L528.48 404.18 L529.03 410.90 L529.59 417.20 L530.14 422.80 L530.70 427.38 L531.25 430.66 L531.81 432.34 L532.37 432.12 L532.92 429.70 L533.47 424.90 L534.03 418.02 L534.59 409.46 L535.14 399.66 L535.69 389.00 L536.25 377.91 L536.80 366.81 L537.36 356.09 L537.91 346.19 L538.47 337.50 L539.02 330.44 L539.58 325.43 L540.13 322.76 L540.69 322.27 L541.25 323.70 L541.80 326.77 L542.36 331.21 L542.91 336.75 L543.46 343.11 L544.02 350.02 L544.58 357.22 L545.13 364.43 L545.68 371.38 L546.24 377.79 L546.79 383.45 L547.35 388.35 L547.90 392.55 L548.46 396.10 L549.01 399.04 L549.57 401.42 L550.12 403.30 L550.68 404.73 L551.24 405.74 L551.79 406.41 L552.34 406.77 L552.90 406.88 L553.45 406.77 L554.01 406.46 L554.57 405.96 L555.12 405.27 L555.67 404.39 L556.23 403.33 L556.78 402.10 L557.34 400.69 L557.89 399.12 L558.45 397.39 L559.00 395.49 L559.56 393.45 L560.12 391.27 L560.67 388.98 L561.23 386.63 L561.78 384.27 L562.33 381.94 L562.89 379.68 L563.44 377.54 L564.00 375.57 L564.56 373.80 L565.11 372.28 L565.66 371.06 L566.22 370.18 L566.77 369.67 L567.33 369.52 L567.88 369.69 L568.44 370.14 L568.99 370.86 L569.55 371.80 L570.11 372.94 L570.66 374.25 L571.22 375.68 L571.77 377.22 L572.32 378.83 L572.88 380.47 L573.43 382.13 L573.99 383.77 L574.55 385.40 L575.10 387.00 L575.65 388.55 L576.21 390.04 L576.76 391.46 L577.32 392.80 L577.88 394.03 L578.43 395.16 L578.98 396.16 L579.54 397.03 L580.10 397.74 L580.65 398.28 L581.21 398.62 L581.76 398.72 L582.31 398.57 L582.87 398.14 L583.42 397.39 L583.98 396.31 L584.53 394.86 L585.09 393.03 L585.64 390.78 L586.20 388.08 L586.75 384.94 L587.31 381.48 L587.87 377.85 L588.42 374.18 L588.97 370.64 L589.53 367.37 L590.09 364.52 L590.64 362.23 L591.20 360.65 L591.75 359.94 L592.30 360.23 L592.86 361.68 L593.41 364.37 L593.97 368.15 L594.52 372.80 L595.08 378.09 L595.63 383.82 L596.19 389.76 L596.75 395.69 L597.30 401.40 L597.86 406.66 L598.41 411.27 L598.96 414.99 L599.52 417.62 L600.08 418.98 L600.63 419.16 L601.18 418.27 L601.74 416.44 L602.29 413.80 L602.85 410.47 L603.40 406.58 L603.96 402.26 L604.51 397.63 L605.07 392.82 L605.62 387.95 L606.18 383.16 L606.74 378.55 L607.29 374.19 L607.85 370.13 L608.40 366.44 L608.95 363.15 L609.51 360.34 L610.06 358.05 L610.62 356.33 L611.17 355.24 L611.73 354.84 L612.28 355.18 L612.84 356.31 L613.39 358.25 L613.95 360.89 L614.50 364.08 L615.06 367.68 L615.62 371.52 L616.17 375.47 L616.73 379.37 L617.28 383.08 L617.84 386.45 L618.39 389.32 L618.94 391.56 L619.50 393.00 L620.05 393.56 L620.61 393.35 L621.16 392.51 L621.72 391.22 L622.27 389.63 L622.83 387.90 L623.38 386.20 L623.94 384.68 L624.50 383.50 L625.05 382.82 L625.61 382.80 L626.16 383.61 L626.72 385.33 L627.27 387.81 L627.83 390.82 L628.38 394.15 L628.93 397.56 L629.49 400.84 L630.04 403.75 L630.60 406.08 L631.15 407.61 L631.71 408.10 L632.26 407.33 L632.82 405.09 L633.38 401.23 L633.93 395.98 L634.49 389.66 L635.04 382.57 L635.60 375.04 L636.15 367.37 L636.71 359.89 L637.26 352.90 L637.82 346.72 L638.37 341.66 L638.92 338.04 L639.48 336.17 L640.03 336.27 L640.59 338.17 L641.14 341.61 L641.70 346.32 L642.25 352.05 L642.81 358.52 L643.37 365.48 L643.92 372.67 L644.48 379.81 L645.03 386.65 L645.58 392.93 L646.14 398.37 L646.69 402.79 L647.25 406.20 L647.81 408.72 L648.36 410.44 L648.91 411.45 L649.47 411.85 L650.02 411.74 L650.58 411.21 L651.13 410.36 L651.69 409.29 L652.25 408.10 L652.80 406.88 L653.36 405.70 L653.91 404.57 L654.47 403.48 L655.02 402.40 L655.57 401.32 L656.13 400.21 L656.68 399.06 L657.24 397.86 L657.80 396.58 L658.35 395.21 L658.90 393.72 L659.46 392.11 L660.01 390.35 L660.57 388.46 L661.12 386.44 L661.68 384.32 L662.23 382.10 L662.79 379.79 L663.35 377.40 L663.90 374.96 L664.46 372.46 L665.01 369.93 L665.56 367.38 L666.12 364.81" stroke="#000" stroke-width="2" fill="none" stroke-linejoin="round"/>
<g fill="#e01212" stroke="#000" stroke-width="1.15"><circle cx="439.68" cy="346.46" r="3.45"/><circle cx="446.34" cy="412.69" r="3.45"/><circle cx="453.00" cy="404.19" r="3.45"/><circle cx="459.66" cy="410.01" r="3.45"/><circle cx="466.32" cy="297.24" r="3.45"/><circle cx="472.98" cy="395.69" r="3.45"/><circle cx="479.64" cy="434.62" r="3.45"/><circle cx="486.30" cy="368.39" r="3.45"/><circle cx="492.96" cy="388.53" r="3.45"/><circle cx="499.62" cy="361.23" r="3.45"/><circle cx="506.28" cy="393.00" r="3.45"/><circle cx="512.94" cy="402.40" r="3.45"/><circle cx="519.60" cy="375.10" r="3.45"/><circle cx="526.26" cy="379.13" r="3.45"/><circle cx="532.92" cy="429.70" r="3.45"/><circle cx="539.58" cy="325.43" r="3.45"/><circle cx="546.24" cy="377.79" r="3.45"/><circle cx="552.90" cy="406.88" r="3.45"/><circle cx="559.56" cy="393.45" r="3.45"/><circle cx="566.22" cy="370.18" r="3.45"/><circle cx="572.88" cy="380.47" r="3.45"/><circle cx="579.54" cy="397.03" r="3.45"/><circle cx="586.20" cy="388.08" r="3.45"/><circle cx="592.86" cy="361.68" r="3.45"/><circle cx="599.52" cy="417.62" r="3.45"/><circle cx="606.18" cy="383.16" r="3.45"/><circle cx="612.84" cy="356.31" r="3.45"/><circle cx="619.50" cy="393.00" r="3.45"/><circle cx="626.16" cy="383.61" r="3.45"/><circle cx="632.82" cy="405.09" r="3.45"/><circle cx="639.48" cy="336.17" r="3.45"/><circle cx="646.14" cy="398.37" r="3.45"/><circle cx="652.80" cy="406.88" r="3.45"/><circle cx="659.46" cy="392.11" r="3.45"/><circle cx="666.12" cy="364.81" r="3.45"/></g>
<path d="M439.68 337.82 L440.10 339.62 L440.51 341.83 L440.93 344.44 L441.34 347.41 L441.76 350.74 L442.18 354.37 L442.59 358.28 L443.01 362.44 L443.43 366.80 L443.84 371.32 L444.26 375.97 L444.68 380.69 L445.09 385.45 L445.51 390.20 L445.92 394.90 L446.34 399.50 L446.76 403.97 L447.17 408.25 L447.59 412.31 L448.00 416.12 L448.42 419.63 L448.84 422.82 L449.25 425.65 L449.67 428.10 L450.09 430.15 L450.50 431.78 L450.92 432.97 L451.33 433.71 L451.75 433.99 L452.17 433.82 L452.58 433.19 L453.00 432.10 L453.42 430.58 L453.83 428.63 L454.25 426.28 L454.66 423.53 L455.08 420.43 L455.50 416.99 L455.91 413.25 L456.33 409.25 L456.75 405.01 L457.16 400.59 L457.58 396.02 L458.00 391.34 L458.41 386.60 L458.83 381.83 L459.24 377.10 L459.66 372.43 L460.08 367.87 L460.49 363.47 L460.91 359.26 L461.32 355.29 L461.74 351.58 L462.16 348.18 L462.57 345.12 L462.99 342.42 L463.41 340.11 L463.82 338.21 L464.24 336.74 L464.65 335.71 L465.07 335.14 L465.49 335.02 L465.90 335.36 L466.32 336.15 L466.74 337.39 L467.15 339.07 L467.57 341.17 L467.99 343.67 L468.40 346.54 L468.82 349.77 L469.23 353.32 L469.65 357.16 L470.07 361.25 L470.48 365.56 L470.90 370.04 L471.31 374.66 L471.73 379.36 L472.15 384.12 L472.56 388.88 L472.98 393.59 L473.40 398.23 L473.81 402.73 L474.23 407.07 L474.64 411.20 L475.06 415.08 L475.48 418.68 L475.89 421.96 L476.31 424.90 L476.73 427.46 L477.14 429.62 L477.56 431.37 L477.98 432.68 L478.39 433.54 L478.81 433.96 L479.22 433.91 L479.64 433.41 L480.06 432.45 L480.47 431.05 L480.89 429.22 L481.31 426.98 L481.72 424.34 L482.14 421.33 L482.55 417.98 L482.97 414.33 L483.39 410.39 L483.80 406.22 L484.22 401.84 L484.63 397.31 L485.05 392.66 L485.47 387.93 L485.88 383.17 L486.30 378.42" stroke="#1212ea" stroke-width="2.6" fill="none" stroke-linejoin="round"/>
<path d="M492.96 367.86 L493.38 366.47 L493.79 365.30 L494.21 364.36 L494.62 363.67 L495.04 363.22 L495.46 363.03 L495.87 363.09 L496.29 363.42 L496.71 364.00 L497.12 364.82 L497.54 365.88 L497.95 367.17 L498.37 368.66 L498.79 370.34 L499.20 372.20 L499.62 374.20 L500.04 376.32 L500.45 378.55 L500.87 380.84 L501.28 383.18 L501.70 385.54 L502.12 387.88 L502.53 390.18 L502.95 392.41 L503.37 394.55 L503.78 396.57 L504.20 398.44 L504.62 400.15 L505.03 401.66 L505.45 402.98 L505.86 404.06 L506.28 404.92 L506.70 405.52 L507.11 405.88 L507.53 405.98 L507.94 405.82 L508.36 405.40 L508.78 404.73 L509.19 403.82 L509.61 402.68 L510.03 401.32 L510.44 399.76 L510.86 398.01 L511.27 396.10 L511.69 394.05 L512.11 391.89 L512.52 389.63 L512.94 387.32 L513.36 384.97 L513.77 382.62 L514.19 380.29 L514.61 378.01 L515.02 375.80 L515.44 373.71 L515.85 371.74 L516.27 369.92 L516.69 368.28 L517.10 366.84 L517.52 365.61 L517.93 364.60 L518.35 363.84 L518.77 363.32 L519.18 363.05 L519.60 363.05 L520.02 363.30 L520.43 363.81 L520.85 364.57 L521.26 365.56 L521.68 366.79 L522.10 368.22 L522.51 369.85 L522.93 371.66 L523.35 373.62 L523.76 375.72 L524.18 377.92 L524.60 380.19 L525.01 382.52 L525.43 384.88 L525.84 387.23 L526.26 389.54 L526.68 391.80 L527.09 393.97 L527.51 396.02 L527.92 397.93 L528.34 399.69 L528.76 401.26 L529.17 402.63 L529.59 403.78 L530.01 404.70 L530.42 405.38 L530.84 405.81 L531.25 405.98 L531.67 405.89 L532.09 405.54 L532.50 404.95 L532.92 404.10 L533.34 403.02 L533.75 401.72 L534.17 400.21 L534.59 398.51 L535.00 396.65 L535.42 394.64 L535.83 392.50 L536.25 390.27 L536.67 387.97 L537.08 385.63 L537.50 383.28 L537.91 380.94 L538.33 378.64 L538.75 376.41 L539.16 374.28 L539.58 372.27 L540.00 370.41 L540.41 368.72 L540.83 367.22 L541.25 365.93 L541.66 364.86 L542.08 364.03 L542.49 363.44 L542.91 363.10 L543.33 363.03 L543.74 363.21 L544.16 363.64 L544.58 364.33 L544.99 365.26 L545.41 366.42 L545.82 367.80 L546.24 369.38 L546.66 371.14 L547.07 373.06 L547.49 375.12 L547.90 377.29 L548.32 379.55 L548.74 381.87 L549.15 384.22 L549.57 386.57 L549.99 388.90 L550.40 391.17 L550.82 393.37 L551.24 395.46 L551.65 397.41 L552.07 399.22 L552.48 400.84 L552.90 402.27 L553.32 403.48 L553.73 404.47 L554.15 405.22 L554.57 405.71 L554.98 405.95 L555.40 405.94 L555.81 405.67 L556.23 405.14 L556.65 404.36 L557.06 403.35 L557.48 402.11 L557.89 400.65 L558.31 399.01 L558.73 397.19 L559.14 395.21 L559.56 393.11 L559.98 390.90 L560.39 388.62 L560.81 386.29 L561.23 383.93 L561.64 381.59 L562.06 379.28 L562.47 377.03 L562.89 374.87 L563.31 372.82 L563.72 370.92 L564.14 369.18 L564.56 367.62 L564.97 366.27 L565.39 365.14 L565.80 364.23 L566.22 363.58 L566.64 363.17 L567.05 363.02 L567.47 363.13 L567.88 363.49 L568.30 364.11 L568.72 364.98 L569.13 366.07 L569.55 367.39 L569.97 368.92 L570.38 370.63 L570.80 372.51 L571.22 374.53 L571.63 376.67 L572.05 378.91 L572.46 381.21 L572.88 383.56 L573.30 385.91 L573.71 388.25 L574.13 390.54 L574.55 392.76 L574.96 394.88 L575.38 396.88 L575.79 398.73 L576.21 400.40 L576.63 401.89 L577.04 403.16 L577.46 404.22 L577.88 405.03 L578.29 405.60 L578.71 405.91 L579.12 405.97 L579.54 405.77 L579.96 405.31 L580.37 404.60 L580.79 403.66 L581.21 402.48 L581.62 401.08 L582.04 399.49 L582.45 397.71 L582.87 395.78 L583.29 393.71 L583.70 391.53 L584.12 389.27 L584.53 386.95 L584.95 384.59 L585.37 382.24 L585.78 379.92 L586.20 377.65 L586.62 375.46 L587.03 373.38 L587.45 371.44 L587.87 369.65 L588.28 368.04 L588.70 366.63 L589.11 365.43 L589.53 364.46 L589.95 363.74 L590.36 363.26 L590.78 363.04 L591.20 363.07 L591.61 363.37 L592.03 363.91 L592.44 364.71 L592.86 365.74 L593.28 367.00 L593.69 368.47 L594.11 370.13 L594.52 371.97 L594.94 373.95 L595.36 376.06 L595.77 378.28 L596.19 380.56 L596.61 382.90 L597.02 385.25 L597.44 387.60 L597.86 389.91 L598.27 392.15 L598.69 394.30 L599.10 396.34 L599.52 398.23 L599.94 399.95 L600.35 401.49 L600.77 402.83 L601.18 403.95 L601.60 404.83 L602.02 405.47 L602.43 405.85 L602.85 405.98 L603.27 405.85 L603.68 405.47 L604.10 404.83 L604.51 403.95 L604.93 402.83 L605.35 401.49 L605.76 399.95 L606.18 398.23 L606.60 396.34 L607.01 394.30 L607.43 392.15 L607.85 389.91 L608.26 387.60 L608.68 385.25 L609.09 382.90 L609.51 380.56 L609.93 378.28 L610.34 376.06 L610.76 373.95 L611.17 371.97 L611.59 370.13 L612.01 368.47 L612.42 367.00 L612.84 365.74 L613.26 364.71 L613.67 363.91 L614.09 363.37 L614.50 363.07 L614.92 363.04 L615.34 363.26 L615.75 363.74 L616.17 364.46 L616.59 365.43 L617.00 366.63 L617.42 368.04 L617.84 369.65 L618.25 371.44 L618.67 373.38 L619.08 375.46 L619.50 377.65 L619.92 379.92 L620.33 382.24 L620.75 384.59 L621.16 386.95 L621.58 389.27 L622.00 391.53 L622.41 393.71 L622.83 395.78 L623.25 397.71 L623.66 399.49 L624.08 401.08 L624.50 402.48 L624.91 403.66 L625.33 404.60 L625.74 405.31 L626.16 405.77 L626.58 405.97 L626.99 405.91 L627.41 405.60 L627.83 405.03 L628.24 404.22 L628.66 403.16 L629.07 401.89 L629.49 400.40 L629.91 398.73 L630.32 396.88 L630.74 394.88 L631.15 392.76 L631.57 390.54 L631.99 388.25 L632.40 385.91 L632.82 383.56 L633.24 381.21 L633.65 378.91 L634.07 376.67 L634.49 374.53 L634.90 372.51 L635.32 370.63 L635.73 368.92 L636.15 367.39 L636.57 366.07 L636.98 364.98 L637.40 364.11 L637.82 363.49 L638.23 363.13 L638.65 363.02 L639.06 363.17 L639.48 363.58 L639.90 364.23 L640.31 365.14 L640.73 366.27 L641.14 367.62 L641.56 369.18 L641.98 370.92 L642.39 372.82 L642.81 374.87 L643.23 377.03 L643.64 379.28 L644.06 381.59 L644.48 383.93 L644.89 386.29 L645.31 388.62 L645.72 390.90 L646.14 393.11 L646.56 395.21 L646.97 397.19 L647.39 399.01 L647.81 400.65 L648.22 402.11 L648.64 403.35 L649.05 404.36 L649.47 405.14 L649.89 405.67 L650.30 405.94 L650.72 405.95 L651.13 405.71 L651.55 405.22 L651.97 404.47 L652.38 403.48 L652.80 402.27 L653.22 400.84 L653.63 399.22 L654.05 397.41 L654.47 395.46 L654.88 393.37 L655.30 391.17 L655.71 388.90 L656.13 386.57 L656.55 384.22 L656.96 381.87 L657.38 379.55 L657.80 377.29 L658.21 375.12 L658.63 373.06 L659.04 371.14 L659.46 369.38 L659.88 367.80 L660.29 366.42 L660.71 365.26 L661.12 364.33 L661.54 363.64 L661.96 363.21 L662.37 363.03 L662.79 363.10 L663.21 363.44 L663.62 364.03 L664.04 364.86 L664.46 365.93 L664.87 367.22 L665.29 368.72 L665.70 370.41 L666.12 372.27" stroke="#468a24" stroke-width="2.6" fill="none" stroke-linejoin="round"/>
<rect x="422.00" y="538.40" width="268.60" height="183.40" fill="none" stroke="#000" stroke-width="1.9"/>
<text class="tk" x="413.77" y="753.30">4</text><text class="tk" x="422.00" y="753.30">0</text>
<text class="tk" x="490.51" y="753.30">5</text><text class="tk" x="498.74" y="753.30">0</text>
<text class="tk" x="567.26" y="753.30">6</text><text class="tk" x="575.49" y="753.30">0</text>
<text class="tk" x="644.00" y="753.30">7</text><text class="tk" x="652.23" y="753.30">0</text>
<text class="tk" x="395.47" y="542.90">2</text>
<path d="M760 0L475 0L475 1050Q320 905 109 835L109 1090Q220 1126 350 1227Q480 1328 528 1466L760 1466Z" transform="translate(395.47,588.75) scale(0.00723,-0.00723)" fill="#111"/>
<text class="tk" x="395.47" y="634.60">0</text>
<text class="tk" x="390.54" y="680.45">-</text><path d="M760 0L475 0L475 1050Q320 905 109 835L109 1090Q220 1126 350 1227Q480 1328 528 1466L760 1466Z" transform="translate(395.47,680.45) scale(0.00723,-0.00723)" fill="#111"/>
<text class="tk" x="390.54" y="726.30">-</text><text class="tk" x="395.47" y="726.30">2</text>
<path d="M422.00 721.80 V732.60 M498.74 721.80 V732.60 M575.49 721.80 V732.60 M652.23 721.80 V732.60 M422.00 538.40 H411.20 M422.00 584.25 H411.20 M422.00 630.10 H411.20 M422.00 675.95 H411.20 M422.00 721.80 H411.20" stroke="#000" stroke-width="1.9" fill="none"/>
<text class="lt" x="349.00" y="525.20">F</text>
<text class="xt" x="559.00" y="771.40" text-anchor="middle">Residue Position</text>
<g transform="translate(361.30,721.00) rotate(-90)">
<text class="yl" x="0.00" y="16.60" font-size="14.0" textLength="26.20" lengthAdjust="spacing">MFI</text>
<text class="yl" x="28.00" y="10.60" font-size="10.0" textLength="36.10" lengthAdjust="spacing">Mutant</text>
<text class="yl" x="27.60" y="20.00" font-size="10.0" textLength="48.30" lengthAdjust="spacing">depletion</text>
<rect x="77.80" y="11.9" width="3.4" height="2.1" fill="#111"/>
<text class="yl" x="85.00" y="16.60" font-size="14.0" textLength="26.60" lengthAdjust="spacing">MFI</text>
<text class="yl" x="113.00" y="19.80" font-size="10.0" textLength="17.60" lengthAdjust="spacing">avg</text>
<text class="yl" x="133.40" y="23.60" font-size="10.0" textLength="48.10" lengthAdjust="spacing">depletion</text>
<text class="yl" x="134.30" y="10.40" font-size="10.0" textLength="35.60" lengthAdjust="spacing">Mutant</text>
</g>
<path d="M437.35 642.02 L437.99 638.73 L438.63 635.47 L439.27 632.30 L439.91 629.25 L440.55 626.36 L441.19 623.67 L441.83 621.23 L442.46 619.06 L443.10 617.22 L443.74 615.75 L444.38 614.68 L445.02 614.05 L445.66 613.89 L446.30 614.15 L446.94 614.76 L447.58 615.64 L448.22 616.74 L448.86 617.98 L449.50 619.29 L450.14 620.62 L450.78 621.88 L451.42 623.00 L452.06 623.93 L452.70 624.60 L453.34 624.95 L453.98 625.02 L454.62 624.87 L455.26 624.56 L455.89 624.15 L456.53 623.69 L457.17 623.24 L457.81 622.87 L458.45 622.62 L459.09 622.56 L459.73 622.74 L460.37 623.22 L461.01 624.05 L461.65 625.20 L462.29 626.65 L462.93 628.34 L463.57 630.25 L464.21 632.33 L464.85 634.57 L465.49 636.90 L466.13 639.31 L466.77 641.76 L467.41 644.20 L468.05 646.61 L468.69 648.94 L469.32 651.19 L469.96 653.32 L470.60 655.34 L471.24 657.21 L471.88 658.92 L472.52 660.46 L473.16 661.81 L473.80 662.95 L474.44 663.86 L475.08 664.53 L475.72 664.95 L476.36 665.09 L477.00 664.99 L477.64 664.68 L478.28 664.18 L478.92 663.54 L479.56 662.79 L480.20 661.94 L480.84 661.05 L481.48 660.14 L482.12 659.24 L482.75 658.39 L483.39 657.61 L484.03 656.92 L484.67 656.24 L485.31 655.46 L485.95 654.50 L486.59 653.24 L487.23 651.59 L487.87 649.44 L488.51 646.70 L489.15 643.27 L489.79 639.04 L490.43 633.92 L491.07 627.81 L491.71 620.66 L492.35 612.69 L492.99 604.19 L493.63 595.41 L494.27 586.65 L494.91 578.18 L495.55 570.28 L496.18 563.22 L496.82 557.28 L497.46 552.74 L498.10 549.87 L498.74 548.95 L499.38 550.16 L500.02 553.28 L500.66 558.02 L501.30 564.05 L501.94 571.07 L502.58 578.77 L503.22 586.84 L503.86 594.96 L504.50 602.84 L505.14 610.15 L505.78 616.59 L506.42 621.85 L507.06 625.70 L507.70 628.24 L508.34 629.67 L508.98 630.17 L509.61 629.93 L510.25 629.13 L510.89 627.97 L511.53 626.63 L512.17 625.30 L512.81 624.16 L513.45 623.41 L514.09 623.22 L514.73 623.75 L515.37 624.90 L516.01 626.57 L516.65 628.62 L517.29 630.93 L517.93 633.37 L518.57 635.82 L519.21 638.16 L519.85 640.26 L520.49 641.99 L521.13 643.23 L521.77 643.86 L522.41 643.78 L523.04 643.08 L523.68 641.88 L524.32 640.28 L524.96 638.41 L525.60 636.38 L526.24 634.31 L526.88 632.31 L527.52 630.49 L528.16 628.99 L528.80 627.90 L529.44 627.35 L530.08 627.42 L530.72 628.04 L531.36 629.12 L532.00 630.57 L532.64 632.27 L533.28 634.14 L533.92 636.08 L534.56 637.99 L535.20 639.78 L535.84 641.34 L536.47 642.58 L537.11 643.40 L537.75 643.73 L538.39 643.60 L539.03 643.08 L539.67 642.22 L540.31 641.08 L540.95 639.74 L541.59 638.24 L542.23 636.65 L542.87 635.02 L543.51 633.42 L544.15 631.92 L544.79 630.56 L545.43 629.40 L546.07 628.45 L546.71 627.72 L547.35 627.20 L547.99 626.90 L548.63 626.82 L549.27 626.96 L549.90 627.32 L550.54 627.90 L551.18 628.71 L551.82 629.75 L552.46 631.02 L553.10 632.51 L553.74 634.17 L554.38 635.97 L555.02 637.83 L555.66 639.71 L556.30 641.56 L556.94 643.31 L557.58 644.93 L558.22 646.35 L558.86 647.52 L559.50 648.39 L560.14 648.90 L560.78 649.02 L561.42 648.77 L562.06 648.21 L562.70 647.36 L563.33 646.27 L563.97 644.99 L564.61 643.55 L565.25 642.01 L565.89 640.40 L566.53 638.77 L567.17 637.15 L567.81 635.60 L568.45 634.15 L569.09 632.80 L569.73 631.55 L570.37 630.41 L571.01 629.37 L571.65 628.44 L572.29 627.61 L572.93 626.89 L573.57 626.27 L574.21 625.76 L574.85 625.36 L575.49 625.06 L576.13 624.86 L576.76 624.76 L577.40 624.74 L578.04 624.81 L578.68 624.93 L579.32 625.12 L579.96 625.35 L580.60 625.62 L581.24 625.92 L581.88 626.24 L582.52 626.57 L583.16 626.89 L583.80 627.21 L584.44 627.50 L585.08 627.78 L585.72 628.03 L586.36 628.24 L587.00 628.42 L587.64 628.54 L588.28 628.62 L588.92 628.63 L589.56 628.58 L590.19 628.46 L590.83 628.27 L591.47 627.99 L592.11 627.64 L592.75 627.21 L593.39 626.73 L594.03 626.19 L594.67 625.60 L595.31 624.97 L595.95 624.30 L596.59 623.60 L597.23 622.88 L597.87 622.14 L598.51 621.39 L599.15 620.64 L599.79 619.92 L600.43 619.25 L601.07 618.67 L601.71 618.19 L602.35 617.86 L602.99 617.70 L603.62 617.74 L604.26 618.01 L604.90 618.54 L605.54 619.35 L606.18 620.47 L606.82 621.92 L607.46 623.64 L608.10 625.53 L608.74 627.51 L609.38 629.52 L610.02 631.45 L610.66 633.23 L611.30 634.78 L611.94 636.01 L612.58 636.84 L613.22 637.19 L613.86 636.98 L614.50 636.15 L615.14 634.79 L615.78 633.00 L616.42 630.91 L617.05 628.61 L617.69 626.23 L618.33 623.87 L618.97 621.64 L619.61 619.67 L620.25 618.05 L620.89 616.91 L621.53 616.35 L622.17 616.44 L622.81 617.14 L623.45 618.34 L624.09 619.95 L624.73 621.88 L625.37 624.02 L626.01 626.28 L626.65 628.56 L627.29 630.78 L627.93 632.83 L628.57 634.63 L629.21 636.06 L629.85 637.07 L630.48 637.68 L631.12 637.94 L631.76 637.90 L632.40 637.63 L633.04 637.16 L633.68 636.56 L634.32 635.87 L634.96 635.15 L635.60 634.44 L636.24 633.81 L636.88 633.31 L637.52 632.97 L638.16 632.78 L638.80 632.70 L639.44 632.73 L640.08 632.81 L640.72 632.93 L641.36 633.06 L642.00 633.17 L642.64 633.23 L643.28 633.22 L643.91 633.10 L644.55 632.85 L645.19 632.45 L645.83 631.94 L646.47 631.35 L647.11 630.73 L647.75 630.13 L648.39 629.59 L649.03 629.16 L649.67 628.87 L650.31 628.78 L650.95 628.92 L651.59 629.35 L652.23 630.10 L652.87 631.21 L653.51 632.65 L654.15 634.40 L654.79 636.41 L655.43 638.66 L656.07 641.10 L656.71 643.72 L657.34 646.46 L657.98 649.30 L658.62 652.21 L659.26 655.14 L659.90 658.07 L660.54 660.96 L661.18 663.80 L661.82 666.58 L662.46 669.26 L663.10 671.86 L663.74 674.34 L664.38 676.69 L665.02 678.90 L665.66 680.96 L666.30 682.84 L666.94 684.54 L667.58 686.04 L668.22 687.33 L668.86 688.43 L669.50 689.36 L670.14 690.15 L670.77 690.82 L671.41 691.40 L672.05 691.91 L672.69 692.38 L673.33 692.83 L673.97 693.28 L674.61 693.76 L675.25 694.29 L675.89 694.90 L676.53 695.57 L677.17 696.31 L677.81 697.11 L678.45 697.97 L679.09 698.86 L679.73 699.80 L680.37 700.77 L681.01 701.76 L681.65 702.78 L682.29 703.80 L682.93 704.84" stroke="#000" stroke-width="2" fill="none" stroke-linejoin="round"/>
<g fill="#e01212" stroke="#000" stroke-width="1.15"><circle cx="437.35" cy="642.02" r="3.45"/><circle cx="445.02" cy="614.05" r="3.45"/><circle cx="452.70" cy="624.60" r="3.45"/><circle cx="460.37" cy="623.22" r="3.45"/><circle cx="468.05" cy="646.61" r="3.45"/><circle cx="475.72" cy="664.95" r="3.45"/><circle cx="483.39" cy="657.61" r="3.45"/><circle cx="491.07" cy="627.81" r="3.45"/><circle cx="498.74" cy="548.95" r="3.45"/><circle cx="506.42" cy="621.85" r="3.45"/><circle cx="514.09" cy="623.22" r="3.45"/><circle cx="521.77" cy="643.86" r="3.45"/><circle cx="529.44" cy="627.35" r="3.45"/><circle cx="537.11" cy="643.40" r="3.45"/><circle cx="544.79" cy="630.56" r="3.45"/><circle cx="552.46" cy="631.02" r="3.45"/><circle cx="560.14" cy="648.90" r="3.45"/><circle cx="567.81" cy="635.60" r="3.45"/><circle cx="575.49" cy="625.06" r="3.45"/><circle cx="583.16" cy="626.89" r="3.45"/><circle cx="590.83" cy="628.27" r="3.45"/><circle cx="598.51" cy="621.39" r="3.45"/><circle cx="606.18" cy="620.47" r="3.45"/><circle cx="613.86" cy="636.98" r="3.45"/><circle cx="621.53" cy="616.35" r="3.45"/><circle cx="629.21" cy="636.06" r="3.45"/><circle cx="636.88" cy="633.31" r="3.45"/><circle cx="644.55" cy="632.85" r="3.45"/><circle cx="652.23" cy="630.10" r="3.45"/><circle cx="659.90" cy="658.07" r="3.45"/><circle cx="667.58" cy="686.04" r="3.45"/><circle cx="675.25" cy="694.29" r="3.45"/><circle cx="682.93" cy="704.84" r="3.45"/></g>
<path d="M437.35 637.48 L437.83 636.05 L438.31 634.60 L438.79 633.13 L439.27 631.65 L439.75 630.16 L440.23 628.67 L440.71 627.19 L441.19 625.72 L441.67 624.26 L442.14 622.83 L442.62 621.42 L443.10 620.05 L443.58 618.71 L444.06 617.41 L444.54 616.17 L445.02 614.97 L445.50 613.83 L445.98 612.75 L446.46 611.73 L446.94 610.78 L447.42 609.90 L447.90 609.10 L448.38 608.37 L448.86 607.73 L449.34 607.16 L449.82 606.69 L450.30 606.29 L450.78 605.99 L451.26 605.78 L451.74 605.65 L452.22 605.62 L452.70 605.67 L453.18 605.82 L453.66 606.06 L454.14 606.38 L454.62 606.79 L455.10 607.29 L455.57 607.87 L456.05 608.54 L456.53 609.28 L457.01 610.10 L457.49 611.00 L457.97 611.97 L458.45 613.00 L458.93 614.10 L459.41 615.25 L459.89 616.46 L460.37 617.72 L460.85 619.03 L461.33 620.37 L461.81 621.76 L462.29 623.17 L462.77 624.61 L463.25 626.07 L463.73 627.54 L464.21 629.03 L464.69 630.52 L465.17 632.00 L465.65 633.48 L466.13 634.95 L466.61 636.40 L467.09 637.82 L467.57 639.22 L468.05 640.59 L468.53 641.91 L469.00 643.19 L469.48 644.42 L469.96 645.60 L470.44 646.73 L470.92 647.79 L471.40 648.78 L471.88 649.71 L472.36 650.56 L472.84 651.34 L473.32 652.04 L473.80 652.66 L474.28 653.20 L474.76 653.65 L475.24 654.01 L475.72 654.29 L476.20 654.47 L476.68 654.57 L477.16 654.58 L477.64 654.49 L478.12 654.32 L478.60 654.05 L479.08 653.70 L479.56 653.26 L480.04 652.73 L480.52 652.12 L481.00 651.43 L481.48 650.66 L481.96 649.82 L482.44 648.90 L482.91 647.91 L483.39 646.86 L483.87 645.74 L484.35 644.57 L484.83 643.34 L485.31 642.07 L485.79 640.75 L486.27 639.39 L486.75 637.99 L487.23 636.57 L487.71 635.12 L488.19 633.66 L488.67 632.18 L489.15 630.70 L489.63 629.21 L490.11 627.72 L490.59 626.25 L491.07 624.78" stroke="#468a24" stroke-width="2.6" fill="none" stroke-linejoin="round"/>
<path d="M506.42 625.27 L506.90 623.50 L507.38 621.89 L507.86 620.47 L508.34 619.28 L508.82 618.34 L509.30 617.69 L509.77 617.33 L510.25 617.28 L510.73 617.53 L511.21 618.08 L511.69 618.91 L512.17 620.01 L512.65 621.35 L513.13 622.90 L513.61 624.62 L514.09 626.47 L514.57 628.40 L515.05 630.38 L515.53 632.35 L516.01 634.26 L516.49 636.08 L516.97 637.75 L517.45 639.25 L517.93 640.52 L518.41 641.55 L518.89 642.31 L519.37 642.77 L519.85 642.94 L520.33 642.80 L520.81 642.36 L521.29 641.62 L521.77 640.62 L522.25 639.36 L522.73 637.88 L523.20 636.22 L523.68 634.41 L524.16 632.50 L524.64 630.54 L525.12 628.56 L525.60 626.62 L526.08 624.76 L526.56 623.03 L527.04 621.47 L527.52 620.11 L528.00 618.99 L528.48 618.13 L528.96 617.56 L529.44 617.29 L529.92 617.32 L530.40 617.65 L530.88 618.28 L531.36 619.19 L531.84 620.36 L532.32 621.76 L532.80 623.36 L533.28 625.12 L533.76 627.00 L534.24 628.95 L534.72 630.93 L535.20 632.89 L535.68 634.78 L536.15 636.56 L536.63 638.19 L537.11 639.63 L537.59 640.84 L538.07 641.79 L538.55 642.47 L539.03 642.85 L539.51 642.93 L539.99 642.70 L540.47 642.18 L540.95 641.37 L541.43 640.29 L541.91 638.97 L542.39 637.43 L542.87 635.73 L543.35 633.89 L543.83 631.96 L544.31 629.98 L544.79 628.01 L545.27 626.09 L545.75 624.26 L546.23 622.57 L546.71 621.06 L547.19 619.77 L547.67 618.72 L548.15 617.94 L548.63 617.45 L549.11 617.26 L549.59 617.38 L550.06 617.80 L550.54 618.51 L551.02 619.49 L551.50 620.73 L551.98 622.19 L552.46 623.84 L552.94 625.64 L553.42 627.54 L553.90 629.51 L554.38 631.48 L554.86 633.43 L555.34 635.30 L555.82 637.04 L556.30 638.62 L556.78 639.99 L557.26 641.13 L557.74 642.01 L558.22 642.60 L558.70 642.90 L559.18 642.90 L559.66 642.59 L560.14 641.98" stroke="#468a24" stroke-width="2.6" fill="none" stroke-linejoin="round"/>
<path d="M567.81 637.40 L568.29 637.65 L568.77 637.75 L569.25 637.71 L569.73 637.52 L570.21 637.18 L570.69 636.71 L571.17 636.11 L571.65 635.40 L572.13 634.58 L572.61 633.68 L573.09 632.71 L573.57 631.69 L574.05 630.63 L574.53 629.57 L575.01 628.51 L575.49 627.49 L575.97 626.52 L576.45 625.62 L576.92 624.80 L577.40 624.09 L577.88 623.49 L578.36 623.02 L578.84 622.68 L579.32 622.49 L579.80 622.45 L580.28 622.55 L580.76 622.80 L581.24 623.19 L581.72 623.71 L582.20 624.36 L582.68 625.12 L583.16 625.97 L583.64 626.90 L584.12 627.90 L584.60 628.93 L585.08 629.99 L585.56 631.06 L586.04 632.10 L586.52 633.10 L587.00 634.05 L587.48 634.92 L587.96 635.70 L588.44 636.37 L588.92 636.92 L589.40 637.33 L589.88 637.61 L590.35 637.75 L590.83 637.73 L591.31 637.57 L591.79 637.26 L592.27 636.82 L592.75 636.24 L593.23 635.55 L593.71 634.75 L594.19 633.87 L594.67 632.91 L595.15 631.89 L595.63 630.84 L596.11 629.78 L596.59 628.72 L597.07 627.69 L597.55 626.71 L598.03 625.79 L598.51 624.96 L598.99 624.22 L599.47 623.60 L599.95 623.10 L600.43 622.74 L600.91 622.52 L601.39 622.44 L601.87 622.52 L602.35 622.74 L602.83 623.10 L603.31 623.60 L603.78 624.22 L604.26 624.96 L604.74 625.79 L605.22 626.71 L605.70 627.69 L606.18 628.72 L606.66 629.78 L607.14 630.84 L607.62 631.89 L608.10 632.91 L608.58 633.87 L609.06 634.75 L609.54 635.55 L610.02 636.24 L610.50 636.82 L610.98 637.26 L611.46 637.57 L611.94 637.73 L612.42 637.75 L612.90 637.61 L613.38 637.33 L613.86 636.92 L614.34 636.37 L614.82 635.70 L615.30 634.92 L615.78 634.05 L616.26 633.10 L616.74 632.10 L617.21 631.06 L617.69 629.99 L618.17 628.93 L618.65 627.90 L619.13 626.90 L619.61 625.97 L620.09 625.12 L620.57 624.36 L621.05 623.71 L621.53 623.19 L622.01 622.80 L622.49 622.55 L622.97 622.45 L623.45 622.49 L623.93 622.68 L624.41 623.02 L624.89 623.49 L625.37 624.09 L625.85 624.80 L626.33 625.62 L626.81 626.52 L627.29 627.49 L627.77 628.51 L628.25 629.57 L628.73 630.63 L629.21 631.69" stroke="#1212ea" stroke-width="2.6" fill="none" stroke-linejoin="round"/>
<g fill="none" stroke-linecap="round" stroke-linejoin="round">
<path d="M555.58 575.19 L555.67 575.42 L555.75 575.64 L555.82 575.87 L555.89 576.10 L555.96 576.32 L556.02 576.55 L556.07 576.77 L556.12 577.00 L556.16 577.22 L556.19 577.44 L556.22 577.67 L556.25 577.89 L556.26 578.11 L556.28 578.32 L556.29 578.54 L556.29 578.75 L556.28 578.96 L556.27 579.17 L556.26 579.38 L556.24 579.58 L556.21 579.78 L556.18 579.97 L556.15 580.17 L556.11 580.36 L556.06 580.54 L556.01 580.72 L555.95 580.90 L555.89 581.07 L555.83 581.24 L555.76 581.41 L555.68 581.57 L555.60 581.72 L555.52 581.88 L555.43 582.02 L555.34 582.16 L555.24 582.30 L555.14 582.43 L555.04 582.55 L554.93 582.67 L554.82 582.78 L554.71 582.89 L554.59 582.99 L554.47 583.08 L554.34 583.17 L554.22 583.25 L554.09 583.33 L553.95 583.40 L553.82 583.46 L553.68 583.52 L553.54 583.57 L553.40 583.61 L553.26 583.65 L553.11 583.68 L552.97 583.70 L552.82 583.72 L552.67 583.73 L552.52 583.73 L552.37 583.73 L552.22 583.72 L552.06 583.70 L551.91 583.67 L551.76 583.64 L551.60 583.60 L551.45 583.56 L551.29 583.51 L551.14 583.45 L550.99 583.38 L550.84 583.31 L550.68 583.23 L550.53 583.14 L550.38 583.05 L550.23 582.95 L550.09 582.84 L549.94 582.73 L549.80 582.61 L549.66 582.49 L549.52 582.36 L549.38 582.22 L549.24 582.07 L549.11 581.92 L548.98 581.77 L548.85 581.61 L548.73 581.44 L548.60 581.27 L548.48 581.09 L548.37 580.91 L548.26 580.72 L548.15 580.52 L548.04 580.33 L547.94 580.12 L547.84 579.91 L547.75 579.70 L547.66 579.48 L547.58 579.26 L547.49 579.04 L547.42 578.81 L547.35 578.58 L547.28 578.34 L547.22 578.10 L547.16 577.86 L547.11 577.61 L547.06 577.36 L547.01 577.11 L546.98 576.86 L546.94 576.60 L546.92 576.34 L546.89 576.08 L546.88 575.82 L546.87 575.55" stroke="#2a5a14" stroke-width="3.0"/>
<path d="M555.58 575.19 L555.67 575.42 L555.75 575.64 L555.82 575.87 L555.89 576.10 L555.96 576.32 L556.02 576.55 L556.07 576.77 L556.12 577.00 L556.16 577.22 L556.19 577.44 L556.22 577.67 L556.25 577.89 L556.26 578.11 L556.28 578.32 L556.29 578.54 L556.29 578.75 L556.28 578.96 L556.27 579.17 L556.26 579.38 L556.24 579.58 L556.21 579.78 L556.18 579.97 L556.15 580.17 L556.11 580.36 L556.06 580.54 L556.01 580.72 L555.95 580.90 L555.89 581.07 L555.83 581.24 L555.76 581.41 L555.68 581.57 L555.60 581.72 L555.52 581.88 L555.43 582.02 L555.34 582.16 L555.24 582.30 L555.14 582.43 L555.04 582.55 L554.93 582.67 L554.82 582.78 L554.71 582.89 L554.59 582.99 L554.47 583.08 L554.34 583.17 L554.22 583.25 L554.09 583.33 L553.95 583.40 L553.82 583.46 L553.68 583.52 L553.54 583.57 L553.40 583.61 L553.26 583.65 L553.11 583.68 L552.97 583.70 L552.82 583.72 L552.67 583.73 L552.52 583.73 L552.37 583.73 L552.22 583.72 L552.06 583.70 L551.91 583.67 L551.76 583.64 L551.60 583.60 L551.45 583.56 L551.29 583.51 L551.14 583.45 L550.99 583.38 L550.84 583.31 L550.68 583.23 L550.53 583.14 L550.38 583.05 L550.23 582.95 L550.09 582.84 L549.94 582.73 L549.80 582.61 L549.66 582.49 L549.52 582.36 L549.38 582.22 L549.24 582.07 L549.11 581.92 L548.98 581.77 L548.85 581.61 L548.73 581.44 L548.60 581.27 L548.48 581.09 L548.37 580.91 L548.26 580.72 L548.15 580.52 L548.04 580.33 L547.94 580.12 L547.84 579.91 L547.75 579.70 L547.66 579.48 L547.58 579.26 L547.49 579.04 L547.42 578.81 L547.35 578.58 L547.28 578.34 L547.22 578.10 L547.16 577.86 L547.11 577.61 L547.06 577.36 L547.01 577.11 L546.98 576.86 L546.94 576.60 L546.92 576.34 L546.89 576.08 L546.88 575.82 L546.87 575.55" stroke="#3f8024" stroke-width="1.7"/>
<path d="M567.19 570.22 L567.28 570.44 L567.36 570.67 L567.43 570.90 L567.50 571.12 L567.57 571.35 L567.62 571.57 L567.67 571.80 L567.72 572.02 L567.76 572.25 L567.80 572.47 L567.83 572.69 L567.85 572.91 L567.87 573.13 L567.88 573.35 L567.89 573.56 L567.89 573.78 L567.88 573.99 L567.87 574.19 L567.86 574.40 L567.84 574.60 L567.81 574.80 L567.78 575.00 L567.74 575.19 L567.70 575.38 L567.65 575.56 L567.60 575.75 L567.55 575.92 L567.48 576.10 L567.42 576.26 L567.35 576.43 L567.27 576.59 L567.19 576.74 L567.11 576.89 L567.02 577.04 L566.93 577.18 L566.83 577.31 L566.73 577.44 L566.63 577.56 L566.52 577.68 L566.41 577.79 L566.29 577.90 L566.17 578.00 L566.05 578.09 L565.93 578.18 L565.80 578.26 L565.67 578.34 L565.54 578.41 L565.40 578.47 L565.27 578.53 L565.13 578.58 L564.99 578.62 L564.84 578.65 L564.70 578.68 L564.55 578.71 L564.40 578.72 L564.25 578.73 L564.10 578.73 L563.95 578.73 L563.80 578.72 L563.64 578.70 L563.49 578.67 L563.34 578.64 L563.18 578.60 L563.03 578.55 L562.88 578.50 L562.72 578.44 L562.57 578.37 L562.42 578.30 L562.27 578.22 L562.11 578.13 L561.97 578.04 L561.82 577.94 L561.67 577.83 L561.52 577.72 L561.38 577.60 L561.24 577.47 L561.10 577.34 L560.96 577.20 L560.83 577.06 L560.69 576.91 L560.56 576.75 L560.44 576.59 L560.31 576.42 L560.19 576.25 L560.07 576.07 L559.96 575.88 L559.84 575.69 L559.73 575.50 L559.63 575.30 L559.53 575.10 L559.43 574.89 L559.34 574.68 L559.25 574.46 L559.17 574.24 L559.09 574.01 L559.01 573.78 L558.94 573.55 L558.87 573.31 L558.81 573.07 L558.75 572.83 L558.70 572.58 L558.65 572.33 L558.61 572.08 L558.57 571.82 L558.54 571.57 L558.51 571.31 L558.49 571.05 L558.48 570.78 L558.47 570.52" stroke="#2a5a14" stroke-width="3.0"/>
<path d="M567.19 570.22 L567.28 570.44 L567.36 570.67 L567.43 570.90 L567.50 571.12 L567.57 571.35 L567.62 571.57 L567.67 571.80 L567.72 572.02 L567.76 572.25 L567.80 572.47 L567.83 572.69 L567.85 572.91 L567.87 573.13 L567.88 573.35 L567.89 573.56 L567.89 573.78 L567.88 573.99 L567.87 574.19 L567.86 574.40 L567.84 574.60 L567.81 574.80 L567.78 575.00 L567.74 575.19 L567.70 575.38 L567.65 575.56 L567.60 575.75 L567.55 575.92 L567.48 576.10 L567.42 576.26 L567.35 576.43 L567.27 576.59 L567.19 576.74 L567.11 576.89 L567.02 577.04 L566.93 577.18 L566.83 577.31 L566.73 577.44 L566.63 577.56 L566.52 577.68 L566.41 577.79 L566.29 577.90 L566.17 578.00 L566.05 578.09 L565.93 578.18 L565.80 578.26 L565.67 578.34 L565.54 578.41 L565.40 578.47 L565.27 578.53 L565.13 578.58 L564.99 578.62 L564.84 578.65 L564.70 578.68 L564.55 578.71 L564.40 578.72 L564.25 578.73 L564.10 578.73 L563.95 578.73 L563.80 578.72 L563.64 578.70 L563.49 578.67 L563.34 578.64 L563.18 578.60 L563.03 578.55 L562.88 578.50 L562.72 578.44 L562.57 578.37 L562.42 578.30 L562.27 578.22 L562.11 578.13 L561.97 578.04 L561.82 577.94 L561.67 577.83 L561.52 577.72 L561.38 577.60 L561.24 577.47 L561.10 577.34 L560.96 577.20 L560.83 577.06 L560.69 576.91 L560.56 576.75 L560.44 576.59 L560.31 576.42 L560.19 576.25 L560.07 576.07 L559.96 575.88 L559.84 575.69 L559.73 575.50 L559.63 575.30 L559.53 575.10 L559.43 574.89 L559.34 574.68 L559.25 574.46 L559.17 574.24 L559.09 574.01 L559.01 573.78 L558.94 573.55 L558.87 573.31 L558.81 573.07 L558.75 572.83 L558.70 572.58 L558.65 572.33 L558.61 572.08 L558.57 571.82 L558.54 571.57 L558.51 571.31 L558.49 571.05 L558.48 570.78 L558.47 570.52" stroke="#3f8024" stroke-width="1.7"/>
<path d="M578.80 565.25 L578.89 565.47 L578.97 565.70 L579.04 565.92 L579.11 566.15 L579.17 566.38 L579.23 566.60 L579.28 566.83 L579.33 567.05 L579.37 567.28 L579.40 567.50 L579.43 567.72 L579.45 567.94 L579.47 568.16 L579.48 568.38 L579.49 568.59 L579.49 568.80 L579.48 569.01 L579.47 569.22 L579.45 569.42 L579.43 569.63 L579.41 569.83 L579.37 570.02 L579.34 570.21 L579.30 570.40 L579.25 570.59 L579.20 570.77 L579.14 570.94 L579.08 571.12 L579.01 571.28 L578.94 571.45 L578.86 571.61 L578.78 571.76 L578.70 571.91 L578.61 572.05 L578.52 572.19 L578.42 572.33 L578.32 572.46 L578.21 572.58 L578.10 572.70 L577.99 572.81 L577.88 572.91 L577.76 573.01 L577.64 573.10 L577.51 573.19 L577.39 573.27 L577.26 573.35 L577.12 573.42 L576.99 573.48 L576.85 573.53 L576.71 573.58 L576.57 573.62 L576.42 573.66 L576.28 573.69 L576.13 573.71 L575.98 573.72 L575.83 573.73 L575.68 573.73 L575.53 573.73 L575.38 573.71 L575.23 573.69 L575.07 573.67 L574.92 573.63 L574.77 573.59 L574.61 573.55 L574.46 573.49 L574.30 573.43 L574.15 573.36 L574.00 573.29 L573.85 573.21 L573.70 573.12 L573.55 573.03 L573.40 572.93 L573.25 572.82 L573.11 572.70 L572.96 572.58 L572.82 572.46 L572.68 572.32 L572.54 572.18 L572.41 572.04 L572.28 571.89 L572.15 571.73 L572.02 571.57 L571.90 571.40 L571.77 571.23 L571.66 571.05 L571.54 570.86 L571.43 570.67 L571.32 570.48 L571.22 570.28 L571.12 570.07 L571.02 569.86 L570.93 569.65 L570.84 569.43 L570.76 569.21 L570.68 568.98 L570.60 568.75 L570.53 568.52 L570.46 568.28 L570.40 568.04 L570.35 567.80 L570.29 567.55 L570.25 567.30 L570.20 567.05 L570.17 566.79 L570.14 566.54 L570.11 566.28 L570.09 566.02 L570.07 565.75 L570.06 565.49" stroke="#2a5a14" stroke-width="3.0"/>
<path d="M578.80 565.25 L578.89 565.47 L578.97 565.70 L579.04 565.92 L579.11 566.15 L579.17 566.38 L579.23 566.60 L579.28 566.83 L579.33 567.05 L579.37 567.28 L579.40 567.50 L579.43 567.72 L579.45 567.94 L579.47 568.16 L579.48 568.38 L579.49 568.59 L579.49 568.80 L579.48 569.01 L579.47 569.22 L579.45 569.42 L579.43 569.63 L579.41 569.83 L579.37 570.02 L579.34 570.21 L579.30 570.40 L579.25 570.59 L579.20 570.77 L579.14 570.94 L579.08 571.12 L579.01 571.28 L578.94 571.45 L578.86 571.61 L578.78 571.76 L578.70 571.91 L578.61 572.05 L578.52 572.19 L578.42 572.33 L578.32 572.46 L578.21 572.58 L578.10 572.70 L577.99 572.81 L577.88 572.91 L577.76 573.01 L577.64 573.10 L577.51 573.19 L577.39 573.27 L577.26 573.35 L577.12 573.42 L576.99 573.48 L576.85 573.53 L576.71 573.58 L576.57 573.62 L576.42 573.66 L576.28 573.69 L576.13 573.71 L575.98 573.72 L575.83 573.73 L575.68 573.73 L575.53 573.73 L575.38 573.71 L575.23 573.69 L575.07 573.67 L574.92 573.63 L574.77 573.59 L574.61 573.55 L574.46 573.49 L574.30 573.43 L574.15 573.36 L574.00 573.29 L573.85 573.21 L573.70 573.12 L573.55 573.03 L573.40 572.93 L573.25 572.82 L573.11 572.70 L572.96 572.58 L572.82 572.46 L572.68 572.32 L572.54 572.18 L572.41 572.04 L572.28 571.89 L572.15 571.73 L572.02 571.57 L571.90 571.40 L571.77 571.23 L571.66 571.05 L571.54 570.86 L571.43 570.67 L571.32 570.48 L571.22 570.28 L571.12 570.07 L571.02 569.86 L570.93 569.65 L570.84 569.43 L570.76 569.21 L570.68 568.98 L570.60 568.75 L570.53 568.52 L570.46 568.28 L570.40 568.04 L570.35 567.80 L570.29 567.55 L570.25 567.30 L570.20 567.05 L570.17 566.79 L570.14 566.54 L570.11 566.28 L570.09 566.02 L570.07 565.75 L570.06 565.49" stroke="#3f8024" stroke-width="1.7"/>
<path d="M590.32 560.05 L590.41 560.27 L590.50 560.50 L590.58 560.72 L590.65 560.95 L590.72 561.18 L590.78 561.40 L590.84 561.63 L590.89 561.85 L590.93 562.08 L590.97 562.30 L591.00 562.53 L591.03 562.75 L591.05 562.97 L591.07 563.18 L591.08 563.40 L591.09 563.62 L591.09 563.83 L591.08 564.04 L591.07 564.24 L591.05 564.45 L591.03 564.65 L591.00 564.85 L590.97 565.04 L590.93 565.24 L590.89 565.42 L590.84 565.61 L590.79 565.79 L590.73 565.96 L590.67 566.14 L590.60 566.30 L590.53 566.47 L590.45 566.63 L590.37 566.78 L590.29 566.93 L590.20 567.07 L590.10 567.21 L590.01 567.34 L589.91 567.47 L589.80 567.59 L589.69 567.71 L589.58 567.82 L589.46 567.92 L589.34 568.02 L589.22 568.12 L589.10 568.20 L588.97 568.28 L588.84 568.36 L588.71 568.42 L588.57 568.48 L588.43 568.54 L588.29 568.59 L588.15 568.63 L588.01 568.66 L587.86 568.69 L587.71 568.71 L587.57 568.72 L587.42 568.73 L587.27 568.73 L587.11 568.73 L586.96 568.71 L586.81 568.69 L586.65 568.66 L586.50 568.63 L586.35 568.59 L586.19 568.54 L586.04 568.49 L585.89 568.42 L585.73 568.36 L585.58 568.28 L585.43 568.20 L585.28 568.11 L585.13 568.01 L584.98 567.91 L584.83 567.80 L584.69 567.69 L584.55 567.57 L584.40 567.44 L584.27 567.31 L584.13 567.17 L583.99 567.02 L583.86 566.87 L583.73 566.71 L583.60 566.55 L583.48 566.38 L583.36 566.20 L583.24 566.02 L583.13 565.84 L583.02 565.65 L582.91 565.45 L582.81 565.25 L582.71 565.05 L582.61 564.84 L582.52 564.62 L582.43 564.41 L582.35 564.18 L582.27 563.96 L582.19 563.73 L582.12 563.49 L582.06 563.25 L581.99 563.01 L581.94 562.77 L581.89 562.52 L581.84 562.27 L581.80 562.02 L581.76 561.76 L581.73 561.51 L581.71 561.25 L581.69 560.98 L581.67 560.72 L581.66 560.46" stroke="#2a5a14" stroke-width="3.0"/>
<path d="M590.32 560.05 L590.41 560.27 L590.50 560.50 L590.58 560.72 L590.65 560.95 L590.72 561.18 L590.78 561.40 L590.84 561.63 L590.89 561.85 L590.93 562.08 L590.97 562.30 L591.00 562.53 L591.03 562.75 L591.05 562.97 L591.07 563.18 L591.08 563.40 L591.09 563.62 L591.09 563.83 L591.08 564.04 L591.07 564.24 L591.05 564.45 L591.03 564.65 L591.00 564.85 L590.97 565.04 L590.93 565.24 L590.89 565.42 L590.84 565.61 L590.79 565.79 L590.73 565.96 L590.67 566.14 L590.60 566.30 L590.53 566.47 L590.45 566.63 L590.37 566.78 L590.29 566.93 L590.20 567.07 L590.10 567.21 L590.01 567.34 L589.91 567.47 L589.80 567.59 L589.69 567.71 L589.58 567.82 L589.46 567.92 L589.34 568.02 L589.22 568.12 L589.10 568.20 L588.97 568.28 L588.84 568.36 L588.71 568.42 L588.57 568.48 L588.43 568.54 L588.29 568.59 L588.15 568.63 L588.01 568.66 L587.86 568.69 L587.71 568.71 L587.57 568.72 L587.42 568.73 L587.27 568.73 L587.11 568.73 L586.96 568.71 L586.81 568.69 L586.65 568.66 L586.50 568.63 L586.35 568.59 L586.19 568.54 L586.04 568.49 L585.89 568.42 L585.73 568.36 L585.58 568.28 L585.43 568.20 L585.28 568.11 L585.13 568.01 L584.98 567.91 L584.83 567.80 L584.69 567.69 L584.55 567.57 L584.40 567.44 L584.27 567.31 L584.13 567.17 L583.99 567.02 L583.86 566.87 L583.73 566.71 L583.60 566.55 L583.48 566.38 L583.36 566.20 L583.24 566.02 L583.13 565.84 L583.02 565.65 L582.91 565.45 L582.81 565.25 L582.71 565.05 L582.61 564.84 L582.52 564.62 L582.43 564.41 L582.35 564.18 L582.27 563.96 L582.19 563.73 L582.12 563.49 L582.06 563.25 L581.99 563.01 L581.94 562.77 L581.89 562.52 L581.84 562.27 L581.80 562.02 L581.76 561.76 L581.73 561.51 L581.71 561.25 L581.69 560.98 L581.67 560.72 L581.66 560.46" stroke="#3f8024" stroke-width="1.7"/>
<path d="M541.25 569.45 L541.48 569.33 L541.71 569.22 L541.95 569.11 L542.19 569.01 L542.43 568.91 L542.68 568.82 L542.92 568.74 L543.17 568.67 L543.42 568.60 L543.67 568.54 L543.92 568.48 L544.18 568.44 L544.43 568.40 L544.68 568.36 L544.94 568.33 L545.20 568.31 L545.45 568.30 L545.71 568.30 L545.97 568.30 L546.22 568.30 L546.48 568.32 L546.73 568.34 L546.99 568.37 L547.24 568.40 L547.50 568.45 L547.75 568.49 L548.00 568.55 L548.25 568.61 L548.50 568.68 L548.75 568.75 L548.99 568.83 L549.23 568.92 L549.48 569.01 L549.71 569.11 L549.95 569.22 L550.18 569.33 L550.41 569.44 L550.64 569.57 L550.87 569.69 L551.09 569.83 L551.31 569.97 L551.52 570.11 L551.73 570.26 L551.94 570.41 L552.15 570.57 L552.35 570.74 L552.54 570.90 L552.74 571.08 L552.92 571.25 L553.11 571.43 L553.29 571.62 L553.46 571.81 L553.63 572.00 L553.80 572.19 L553.96 572.39 L554.12 572.59 L554.27 572.80 L554.41 573.01 L554.55 573.22 L554.69 573.43 L554.82 573.64 L554.94 573.86 L555.06 574.08 L555.18 574.30 L555.29 574.52 L555.39 574.74 L555.49 574.97 L555.58 575.19" stroke="#2a5e16" stroke-width="4.5"/>
<path d="M541.25 569.45 L541.48 569.33 L541.71 569.22 L541.95 569.11 L542.19 569.01 L542.43 568.91 L542.68 568.82 L542.92 568.74 L543.17 568.67 L543.42 568.60 L543.67 568.54 L543.92 568.48 L544.18 568.44 L544.43 568.40 L544.68 568.36 L544.94 568.33 L545.20 568.31 L545.45 568.30 L545.71 568.30 L545.97 568.30 L546.22 568.30 L546.48 568.32 L546.73 568.34 L546.99 568.37 L547.24 568.40 L547.50 568.45 L547.75 568.49 L548.00 568.55 L548.25 568.61 L548.50 568.68 L548.75 568.75 L548.99 568.83 L549.23 568.92 L549.48 569.01 L549.71 569.11 L549.95 569.22 L550.18 569.33 L550.41 569.44 L550.64 569.57 L550.87 569.69 L551.09 569.83 L551.31 569.97 L551.52 570.11 L551.73 570.26 L551.94 570.41 L552.15 570.57 L552.35 570.74 L552.54 570.90 L552.74 571.08 L552.92 571.25 L553.11 571.43 L553.29 571.62 L553.46 571.81 L553.63 572.00 L553.80 572.19 L553.96 572.39 L554.12 572.59 L554.27 572.80 L554.41 573.01 L554.55 573.22 L554.69 573.43 L554.82 573.64 L554.94 573.86 L555.06 574.08 L555.18 574.30 L555.29 574.52 L555.39 574.74 L555.49 574.97 L555.58 575.19" stroke="#569d33" stroke-width="3.1"/>
<path d="M546.87 575.55 L546.86 575.29 L546.86 575.02 L546.87 574.75 L546.88 574.48 L546.89 574.21 L546.91 573.94 L546.94 573.67 L546.98 573.40 L547.01 573.13 L547.06 572.86 L547.11 572.59 L547.17 572.32 L547.23 572.05 L547.30 571.79 L547.37 571.52 L547.45 571.26 L547.53 570.99 L547.62 570.73 L547.72 570.47 L547.82 570.21 L547.93 569.96 L548.04 569.71 L548.16 569.46 L548.28 569.21 L548.41 568.97 L548.54 568.73 L548.68 568.49 L548.82 568.26 L548.97 568.03 L549.13 567.80 L549.29 567.58 L549.45 567.36 L549.62 567.15 L549.79 566.94 L549.97 566.74 L550.15 566.54 L550.34 566.34 L550.53 566.15 L550.72 565.97 L550.92 565.79 L551.13 565.62 L551.33 565.45 L551.54 565.29 L551.76 565.13 L551.97 564.98 L552.20 564.83 L552.42 564.69 L552.65 564.56 L552.88 564.44 L553.11 564.32 L553.34 564.20 L553.58 564.10 L553.82 563.99 L554.06 563.90 L554.31 563.81 L554.55 563.73 L554.80 563.66 L555.05 563.59 L555.30 563.53 L555.55 563.48 L555.81 563.43 L556.06 563.39 L556.32 563.36 L556.57 563.33 L556.83 563.31 L557.08 563.30 L557.34 563.30 L557.60 563.30 L557.85 563.31 L558.11 563.32 L558.37 563.34 L558.62 563.37 L558.88 563.41 L559.13 563.45 L559.38 563.50 L559.63 563.56 L559.88 563.62 L560.13 563.69 L560.38 563.76 L560.62 563.84 L560.86 563.93 L561.10 564.02 L561.34 564.12 L561.58 564.23 L561.81 564.34 L562.04 564.46 L562.27 564.58 L562.49 564.71 L562.72 564.84 L562.93 564.98 L563.15 565.13 L563.36 565.28 L563.57 565.43 L563.77 565.59 L563.97 565.76 L564.17 565.93 L564.36 566.10 L564.55 566.28 L564.73 566.46 L564.91 566.64 L565.08 566.83 L565.25 567.02 L565.42 567.22 L565.58 567.42 L565.73 567.62 L565.88 567.82 L566.03 568.03 L566.17 568.24 L566.30 568.45 L566.43 568.67 L566.56 568.89 L566.68 569.10 L566.79 569.33 L566.90 569.55 L567.00 569.77 L567.10 569.99 L567.19 570.22" stroke="#2a5e16" stroke-width="4.5"/>
<path d="M546.87 575.55 L546.86 575.29 L546.86 575.02 L546.87 574.75 L546.88 574.48 L546.89 574.21 L546.91 573.94 L546.94 573.67 L546.98 573.40 L547.01 573.13 L547.06 572.86 L547.11 572.59 L547.17 572.32 L547.23 572.05 L547.30 571.79 L547.37 571.52 L547.45 571.26 L547.53 570.99 L547.62 570.73 L547.72 570.47 L547.82 570.21 L547.93 569.96 L548.04 569.71 L548.16 569.46 L548.28 569.21 L548.41 568.97 L548.54 568.73 L548.68 568.49 L548.82 568.26 L548.97 568.03 L549.13 567.80 L549.29 567.58 L549.45 567.36 L549.62 567.15 L549.79 566.94 L549.97 566.74 L550.15 566.54 L550.34 566.34 L550.53 566.15 L550.72 565.97 L550.92 565.79 L551.13 565.62 L551.33 565.45 L551.54 565.29 L551.76 565.13 L551.97 564.98 L552.20 564.83 L552.42 564.69 L552.65 564.56 L552.88 564.44 L553.11 564.32 L553.34 564.20 L553.58 564.10 L553.82 563.99 L554.06 563.90 L554.31 563.81 L554.55 563.73 L554.80 563.66 L555.05 563.59 L555.30 563.53 L555.55 563.48 L555.81 563.43 L556.06 563.39 L556.32 563.36 L556.57 563.33 L556.83 563.31 L557.08 563.30 L557.34 563.30 L557.60 563.30 L557.85 563.31 L558.11 563.32 L558.37 563.34 L558.62 563.37 L558.88 563.41 L559.13 563.45 L559.38 563.50 L559.63 563.56 L559.88 563.62 L560.13 563.69 L560.38 563.76 L560.62 563.84 L560.86 563.93 L561.10 564.02 L561.34 564.12 L561.58 564.23 L561.81 564.34 L562.04 564.46 L562.27 564.58 L562.49 564.71 L562.72 564.84 L562.93 564.98 L563.15 565.13 L563.36 565.28 L563.57 565.43 L563.77 565.59 L563.97 565.76 L564.17 565.93 L564.36 566.10 L564.55 566.28 L564.73 566.46 L564.91 566.64 L565.08 566.83 L565.25 567.02 L565.42 567.22 L565.58 567.42 L565.73 567.62 L565.88 567.82 L566.03 568.03 L566.17 568.24 L566.30 568.45 L566.43 568.67 L566.56 568.89 L566.68 569.10 L566.79 569.33 L566.90 569.55 L567.00 569.77 L567.10 569.99 L567.19 570.22" stroke="#569d33" stroke-width="3.1"/>
<path d="M558.47 570.52 L558.46 570.25 L558.46 569.99 L558.47 569.72 L558.48 569.45 L558.49 569.18 L558.52 568.91 L558.55 568.64 L558.58 568.37 L558.62 568.10 L558.66 567.83 L558.72 567.56 L558.77 567.29 L558.84 567.02 L558.90 566.75 L558.98 566.49 L559.06 566.22 L559.14 565.96 L559.23 565.70 L559.33 565.44 L559.43 565.18 L559.54 564.93 L559.65 564.68 L559.77 564.43 L559.89 564.18 L560.02 563.94 L560.16 563.70 L560.30 563.46 L560.44 563.23 L560.59 563.00 L560.75 562.77 L560.91 562.55 L561.07 562.34 L561.24 562.12 L561.41 561.92 L561.59 561.71 L561.77 561.51 L561.96 561.32 L562.15 561.13 L562.35 560.95 L562.55 560.77 L562.75 560.60 L562.96 560.43 L563.17 560.27 L563.38 560.11 L563.60 559.96 L563.82 559.82 L564.05 559.68 L564.27 559.55 L564.50 559.42 L564.74 559.30 L564.97 559.19 L565.21 559.08 L565.45 558.98 L565.69 558.89 L565.94 558.80 L566.18 558.72 L566.43 558.65 L566.68 558.58 L566.93 558.52 L567.18 558.47 L567.44 558.43 L567.69 558.39 L567.95 558.35 L568.20 558.33 L568.46 558.31 L568.71 558.30 L568.97 558.30 L569.23 558.30 L569.48 558.31 L569.74 558.32 L570.00 558.35 L570.25 558.38 L570.51 558.41 L570.76 558.46 L571.01 558.51 L571.26 558.56 L571.51 558.63 L571.76 558.69 L572.01 558.77 L572.25 558.85 L572.49 558.94 L572.73 559.04 L572.97 559.14 L573.21 559.24 L573.44 559.36 L573.67 559.47 L573.90 559.60 L574.12 559.73 L574.34 559.86 L574.56 560.00 L574.77 560.15 L574.98 560.30 L575.19 560.45 L575.40 560.61 L575.59 560.78 L575.79 560.95 L575.98 561.12 L576.17 561.30 L576.35 561.48 L576.53 561.66 L576.70 561.85 L576.87 562.05 L577.04 562.24 L577.20 562.44 L577.35 562.64 L577.50 562.85 L577.65 563.06 L577.79 563.27 L577.92 563.48 L578.05 563.70 L578.17 563.91 L578.29 564.13 L578.41 564.35 L578.51 564.57 L578.62 564.80 L578.71 565.02 L578.80 565.25" stroke="#2a5e16" stroke-width="4.5"/>
<path d="M558.47 570.52 L558.46 570.25 L558.46 569.99 L558.47 569.72 L558.48 569.45 L558.49 569.18 L558.52 568.91 L558.55 568.64 L558.58 568.37 L558.62 568.10 L558.66 567.83 L558.72 567.56 L558.77 567.29 L558.84 567.02 L558.90 566.75 L558.98 566.49 L559.06 566.22 L559.14 565.96 L559.23 565.70 L559.33 565.44 L559.43 565.18 L559.54 564.93 L559.65 564.68 L559.77 564.43 L559.89 564.18 L560.02 563.94 L560.16 563.70 L560.30 563.46 L560.44 563.23 L560.59 563.00 L560.75 562.77 L560.91 562.55 L561.07 562.34 L561.24 562.12 L561.41 561.92 L561.59 561.71 L561.77 561.51 L561.96 561.32 L562.15 561.13 L562.35 560.95 L562.55 560.77 L562.75 560.60 L562.96 560.43 L563.17 560.27 L563.38 560.11 L563.60 559.96 L563.82 559.82 L564.05 559.68 L564.27 559.55 L564.50 559.42 L564.74 559.30 L564.97 559.19 L565.21 559.08 L565.45 558.98 L565.69 558.89 L565.94 558.80 L566.18 558.72 L566.43 558.65 L566.68 558.58 L566.93 558.52 L567.18 558.47 L567.44 558.43 L567.69 558.39 L567.95 558.35 L568.20 558.33 L568.46 558.31 L568.71 558.30 L568.97 558.30 L569.23 558.30 L569.48 558.31 L569.74 558.32 L570.00 558.35 L570.25 558.38 L570.51 558.41 L570.76 558.46 L571.01 558.51 L571.26 558.56 L571.51 558.63 L571.76 558.69 L572.01 558.77 L572.25 558.85 L572.49 558.94 L572.73 559.04 L572.97 559.14 L573.21 559.24 L573.44 559.36 L573.67 559.47 L573.90 559.60 L574.12 559.73 L574.34 559.86 L574.56 560.00 L574.77 560.15 L574.98 560.30 L575.19 560.45 L575.40 560.61 L575.59 560.78 L575.79 560.95 L575.98 561.12 L576.17 561.30 L576.35 561.48 L576.53 561.66 L576.70 561.85 L576.87 562.05 L577.04 562.24 L577.20 562.44 L577.35 562.64 L577.50 562.85 L577.65 563.06 L577.79 563.27 L577.92 563.48 L578.05 563.70 L578.17 563.91 L578.29 564.13 L578.41 564.35 L578.51 564.57 L578.62 564.80 L578.71 565.02 L578.80 565.25" stroke="#569d33" stroke-width="3.1"/>
<path d="M570.06 565.49 L570.06 565.22 L570.06 564.95 L570.07 564.69 L570.08 564.42 L570.10 564.15 L570.12 563.88 L570.15 563.61 L570.18 563.34 L570.22 563.07 L570.27 562.80 L570.32 562.53 L570.38 562.26 L570.44 561.99 L570.51 561.72 L570.59 561.46 L570.67 561.19 L570.75 560.93 L570.84 560.67 L570.94 560.41 L571.04 560.15 L571.15 559.90 L571.27 559.65 L571.39 559.40 L571.51 559.15 L571.64 558.91 L571.77 558.67 L571.91 558.43 L572.06 558.20 L572.21 557.97 L572.37 557.75 L572.53 557.53 L572.69 557.31 L572.86 557.10 L573.03 556.89 L573.21 556.69 L573.40 556.49 L573.58 556.30 L573.78 556.11 L573.97 555.92 L574.17 555.75 L574.38 555.57 L574.58 555.41 L574.79 555.25 L575.01 555.09 L575.23 554.94 L575.45 554.80 L575.67 554.66 L575.90 554.53 L576.13 554.41 L576.36 554.29 L576.60 554.18 L576.84 554.07 L577.08 553.97 L577.32 553.88 L577.57 553.79 L577.81 553.71 L578.06 553.64 L578.31 553.58 L578.56 553.52 L578.81 553.47 L579.07 553.42 L579.32 553.38 L579.58 553.35 L579.83 553.33 L580.09 553.31 L580.35 553.30 L580.60 553.30 L580.86 553.30 L581.12 553.31 L581.37 553.33 L581.63 553.35 L581.88 553.38 L582.14 553.42 L582.39 553.46 L582.64 553.51 L582.89 553.57 L583.14 553.63 L583.39 553.70 L583.64 553.78 L583.88 553.86 L584.12 553.95 L584.36 554.05 L584.60 554.15 L584.83 554.26 L585.07 554.37 L585.30 554.49 L585.52 554.61 L585.75 554.74 L585.97 554.88 L586.19 555.02 L586.40 555.16 L586.61 555.32 L586.82 555.47 L587.02 555.63 L587.22 555.80 L587.41 555.97 L587.60 556.14 L587.79 556.32 L587.97 556.50 L588.15 556.69 L588.32 556.88 L588.49 557.07 L588.66 557.27 L588.82 557.47 L588.97 557.67 L589.12 557.87 L589.26 558.08 L589.40 558.29 L589.54 558.51 L589.67 558.72 L589.79 558.94 L589.91 559.16 L590.02 559.38 L590.13 559.60 L590.23 559.82 L590.32 560.05" stroke="#2a5e16" stroke-width="4.5"/>
<path d="M570.06 565.49 L570.06 565.22 L570.06 564.95 L570.07 564.69 L570.08 564.42 L570.10 564.15 L570.12 563.88 L570.15 563.61 L570.18 563.34 L570.22 563.07 L570.27 562.80 L570.32 562.53 L570.38 562.26 L570.44 561.99 L570.51 561.72 L570.59 561.46 L570.67 561.19 L570.75 560.93 L570.84 560.67 L570.94 560.41 L571.04 560.15 L571.15 559.90 L571.27 559.65 L571.39 559.40 L571.51 559.15 L571.64 558.91 L571.77 558.67 L571.91 558.43 L572.06 558.20 L572.21 557.97 L572.37 557.75 L572.53 557.53 L572.69 557.31 L572.86 557.10 L573.03 556.89 L573.21 556.69 L573.40 556.49 L573.58 556.30 L573.78 556.11 L573.97 555.92 L574.17 555.75 L574.38 555.57 L574.58 555.41 L574.79 555.25 L575.01 555.09 L575.23 554.94 L575.45 554.80 L575.67 554.66 L575.90 554.53 L576.13 554.41 L576.36 554.29 L576.60 554.18 L576.84 554.07 L577.08 553.97 L577.32 553.88 L577.57 553.79 L577.81 553.71 L578.06 553.64 L578.31 553.58 L578.56 553.52 L578.81 553.47 L579.07 553.42 L579.32 553.38 L579.58 553.35 L579.83 553.33 L580.09 553.31 L580.35 553.30 L580.60 553.30 L580.86 553.30 L581.12 553.31 L581.37 553.33 L581.63 553.35 L581.88 553.38 L582.14 553.42 L582.39 553.46 L582.64 553.51 L582.89 553.57 L583.14 553.63 L583.39 553.70 L583.64 553.78 L583.88 553.86 L584.12 553.95 L584.36 554.05 L584.60 554.15 L584.83 554.26 L585.07 554.37 L585.30 554.49 L585.52 554.61 L585.75 554.74 L585.97 554.88 L586.19 555.02 L586.40 555.16 L586.61 555.32 L586.82 555.47 L587.02 555.63 L587.22 555.80 L587.41 555.97 L587.60 556.14 L587.79 556.32 L587.97 556.50 L588.15 556.69 L588.32 556.88 L588.49 557.07 L588.66 557.27 L588.82 557.47 L588.97 557.67 L589.12 557.87 L589.26 558.08 L589.40 558.29 L589.54 558.51 L589.67 558.72 L589.79 558.94 L589.91 559.16 L590.02 559.38 L590.13 559.60 L590.23 559.82 L590.32 560.05" stroke="#569d33" stroke-width="3.1"/>
<path d="M581.66 560.46 L581.66 560.19 L581.66 559.92 L581.67 559.65 L581.68 559.38 L581.70 559.11 L581.72 558.84 L581.75 558.57 L581.79 558.30 L581.83 558.03 L581.88 557.76 L581.93 557.49 L581.99 557.22 L582.05 556.96 L582.12 556.69 L582.20 556.42 L582.28 556.16 L582.36 555.90 L582.46 555.64 L582.55 555.38 L582.66 555.12 L582.77 554.87 L582.88 554.62 L583.00 554.37 L583.13 554.12 L583.26 553.88 L583.39 553.64 L583.53 553.41 L583.68 553.17 L583.83 552.95 L583.98 552.72 L584.15 552.50 L584.31 552.28 L584.48 552.07 L584.66 551.87 L584.84 551.66 L585.02 551.47 L585.21 551.27 L585.40 551.09 L585.60 550.90 L585.80 550.73 L586.00 550.55 L586.21 550.39 L586.42 550.23 L586.64 550.07" stroke="#2a5e16" stroke-width="4.5"/>
<path d="M581.66 560.46 L581.66 560.19 L581.66 559.92 L581.67 559.65 L581.68 559.38 L581.70 559.11 L581.72 558.84 L581.75 558.57 L581.79 558.30 L581.83 558.03 L581.88 557.76 L581.93 557.49 L581.99 557.22 L582.05 556.96 L582.12 556.69 L582.20 556.42 L582.28 556.16 L582.36 555.90 L582.46 555.64 L582.55 555.38 L582.66 555.12 L582.77 554.87 L582.88 554.62 L583.00 554.37 L583.13 554.12 L583.26 553.88 L583.39 553.64 L583.53 553.41 L583.68 553.17 L583.83 552.95 L583.98 552.72 L584.15 552.50 L584.31 552.28 L584.48 552.07 L584.66 551.87 L584.84 551.66 L585.02 551.47 L585.21 551.27 L585.40 551.09 L585.60 550.90 L585.80 550.73 L586.00 550.55 L586.21 550.39 L586.42 550.23 L586.64 550.07" stroke="#569d33" stroke-width="3.1"/>
<path d="M563.93 559.75 L564.34 559.51 L564.76 559.29 L565.18 559.09 L565.61 558.92 L566.05 558.76 L566.50 558.63 L566.95 558.52 L567.40 558.43 L567.86 558.36 L568.32 558.32 L568.78 558.30 L569.24 558.30 L569.70 558.32 L570.16 558.36 L570.62 558.43 L571.07 558.52 L571.52 558.63 L571.96 558.76 L572.40 558.91 L572.83 559.08 L573.25 559.27 L573.67 559.47 L574.08 559.70 L574.47 559.94 L574.86 560.20 L575.23 560.48 L575.59 560.77 L575.94 561.08 L576.27 561.40 L576.59 561.73 L576.90 562.08 L577.19 562.43 L577.46 562.80 L577.72 563.17 L577.97 563.55 L578.19 563.94 L578.40 564.34 L578.59 564.74 L578.76 565.14" stroke="#b00000" stroke-width="3.6"/>
<path d="M563.93 559.75 L564.34 559.51 L564.76 559.29 L565.18 559.09 L565.61 558.92 L566.05 558.76 L566.50 558.63 L566.95 558.52 L567.40 558.43 L567.86 558.36 L568.32 558.32 L568.78 558.30 L569.24 558.30 L569.70 558.32 L570.16 558.36 L570.62 558.43 L571.07 558.52 L571.52 558.63 L571.96 558.76 L572.40 558.91 L572.83 559.08 L573.25 559.27 L573.67 559.47 L574.08 559.70 L574.47 559.94 L574.86 560.20 L575.23 560.48 L575.59 560.77 L575.94 561.08 L576.27 561.40 L576.59 561.73 L576.90 562.08 L577.19 562.43 L577.46 562.80 L577.72 563.17 L577.97 563.55 L578.19 563.94 L578.40 564.34 L578.59 564.74 L578.76 565.14" stroke="#ee1111" stroke-width="2.4"/>
<path d="M584.50 552.20 L590.00 550.60 L597.00 550.80 L606.00 554.60" stroke="#3a7a22" stroke-width="5.6"/>
<path d="M584.50 552.20 L590.00 550.60 L597.00 550.80 L606.00 554.60" stroke="#8cd060" stroke-width="3.4"/>
<path d="M606.20 555.20 L608.20 563.10" stroke="#06068a" stroke-width="6.30"/>
<path d="M608.20 563.10 L611.70 570.10" stroke="#06068a" stroke-width="6.30"/>
<path d="M611.70 570.10 L615.70 570.90" stroke="#06068a" stroke-width="4.90"/>
<path d="M615.70 570.90 L618.80 563.90" stroke="#06068a" stroke-width="4.50"/>
<path d="M618.80 563.90 L621.60 556.00" stroke="#06068a" stroke-width="4.90"/>
<path d="M621.60 556.00 L625.10 553.60" stroke="#06068a" stroke-width="5.70"/>
<path d="M625.10 553.60 L628.20 559.90" stroke="#06068a" stroke-width="6.10"/>
<path d="M628.20 559.90 L631.00 567.00" stroke="#06068a" stroke-width="5.70"/>
<path d="M631.00 567.00 L635.70 570.90" stroke="#06068a" stroke-width="5.10"/>
<path d="M635.70 570.90 L640.40 570.10" stroke="#06068a" stroke-width="4.70"/>
<path d="M640.40 570.10 L644.30 566.20" stroke="#06068a" stroke-width="4.50"/>
<path d="M644.30 566.20 L647.50 565.40" stroke="#06068a" stroke-width="4.15"/>
<path d="M647.50 565.40 L646.30 570.90" stroke="#06068a" stroke-width="4.00"/>
<path d="M646.30 570.90 L646.30 577.20" stroke="#06068a" stroke-width="3.90"/>
<path d="M646.30 577.20 L648.30 582.70" stroke="#06068a" stroke-width="3.70"/>
<path d="M648.30 582.70 L649.80 585.80" stroke="#06068a" stroke-width="3.50"/>
<path d="M606.20 555.20 L608.20 563.10" stroke="#1515ec" stroke-width="5.20"/>
<path d="M608.20 563.10 L611.70 570.10" stroke="#1515ec" stroke-width="5.20"/>
<path d="M611.70 570.10 L615.70 570.90" stroke="#1515ec" stroke-width="3.80"/>
<path d="M615.70 570.90 L618.80 563.90" stroke="#1515ec" stroke-width="3.40"/>
<path d="M618.80 563.90 L621.60 556.00" stroke="#1515ec" stroke-width="3.80"/>
<path d="M621.60 556.00 L625.10 553.60" stroke="#1515ec" stroke-width="4.60"/>
<path d="M625.10 553.60 L628.20 559.90" stroke="#1515ec" stroke-width="5.00"/>
<path d="M628.20 559.90 L631.00 567.00" stroke="#1515ec" stroke-width="4.60"/>
<path d="M631.00 567.00 L635.70 570.90" stroke="#1515ec" stroke-width="4.00"/>
<path d="M635.70 570.90 L640.40 570.10" stroke="#1515ec" stroke-width="3.60"/>
<path d="M640.40 570.10 L644.30 566.20" stroke="#1515ec" stroke-width="3.40"/>
<path d="M644.30 566.20 L647.50 565.40" stroke="#1515ec" stroke-width="3.05"/>
<path d="M647.50 565.40 L646.30 570.90" stroke="#1515ec" stroke-width="2.90"/>
<path d="M646.30 570.90 L646.30 577.20" stroke="#1515ec" stroke-width="2.80"/>
<path d="M646.30 577.20 L648.30 582.70" stroke="#1515ec" stroke-width="2.60"/>
<path d="M648.30 582.70 L649.80 585.80" stroke="#1515ec" stroke-width="2.40"/>
<circle cx="607.4" cy="559.1" r="1.1" fill="#6a6aff" stroke="none"/>
<circle cx="625.5" cy="556.8" r="1.1" fill="#6a6aff" stroke="none"/>
<circle cx="616.0" cy="564.5" r="1.1" fill="#6a6aff" stroke="none"/>
<circle cx="638.8" cy="569.3" r="1.1" fill="#6a6aff" stroke="none"/>
<path d="M649.60 585.70 L654.60 584.60 L659.80 582.70 L664.30 581.60 L667.50 582.40 L669.10 584.60 L669.40 587.90 L671.30 590.40 L675.20 593.60 L678.40 596.20 L680.30 598.80 L681.00 602.00" stroke="#7a0808" stroke-width="2.3"/>
<path d="M649.60 585.70 L654.60 584.60 L659.80 582.70 L664.30 581.60 L667.50 582.40 L669.10 584.60 L669.40 587.90 L671.30 590.40" stroke="#c41414" stroke-width="1.3"/>
</g>
</svg></body></html>
